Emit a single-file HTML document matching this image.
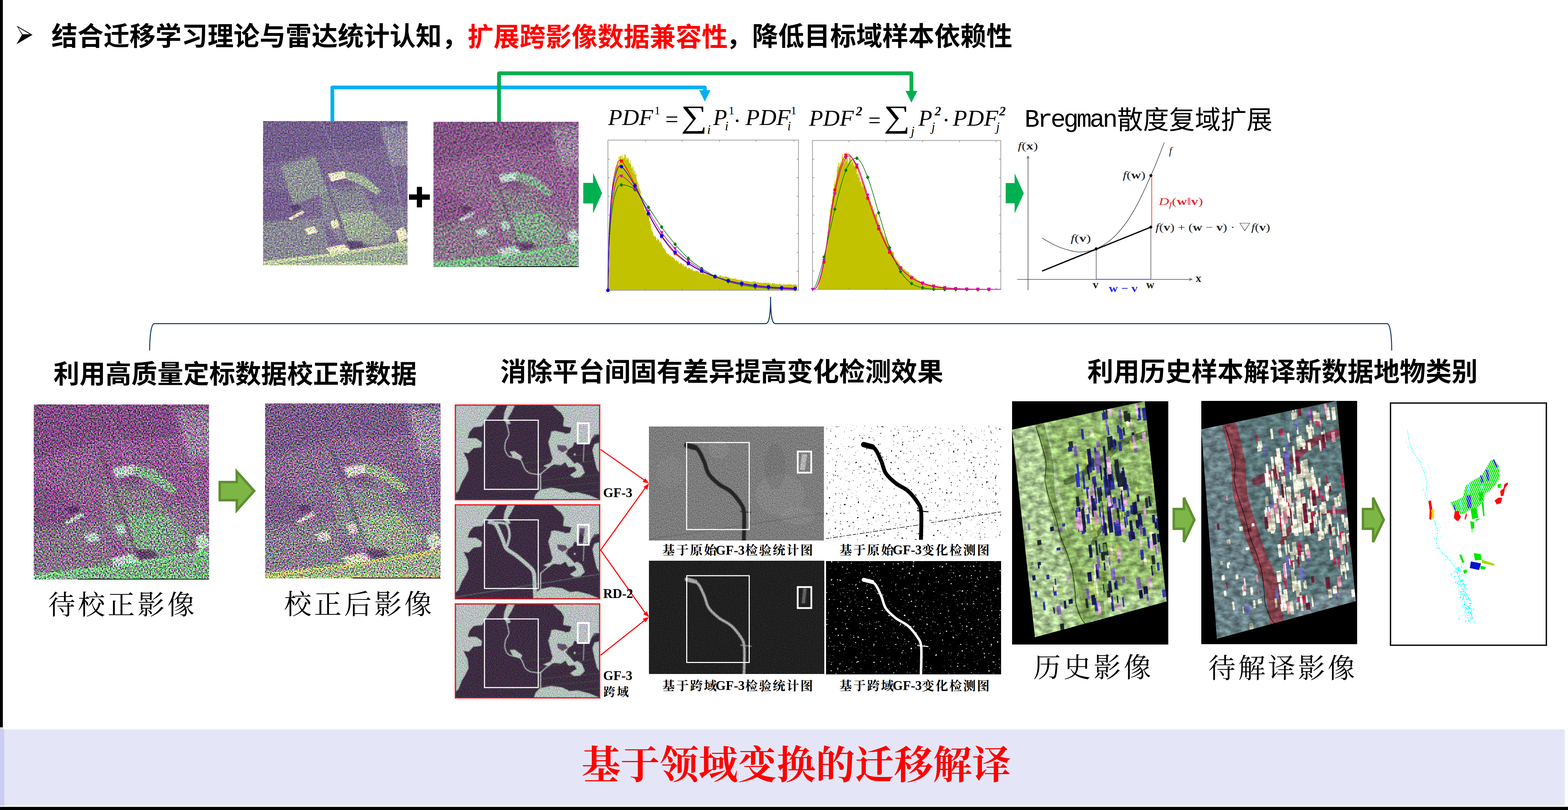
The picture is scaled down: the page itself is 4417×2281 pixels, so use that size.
<!DOCTYPE html>
<html lang="zh"><head><meta charset="utf-8"><title>基于领域变换的迁移解译</title>
<style>
html,body{margin:0;padding:0;background:#fff;}
body{width:4417px;height:2281px;position:relative;overflow:hidden;font-family:"Liberation Sans",sans-serif;color:#000;}
.a{position:absolute;}
.lab{font-family:"Liberation Serif",serif;font-weight:bold;font-size:37px;line-height:36px;white-space:nowrap;}
svg{position:absolute;overflow:visible;}
svg text{font-family:"Liberation Serif",serif;}
svg text.cs{font-family:"Liberation Sans","Noto Sans CJK SC",sans-serif;}
svg text.cf{font-family:"Liberation Serif","Noto Serif CJK SC",serif;}
</style></head><body>

<div class="a" style="left:0;top:0;width:8px;height:2048px;background:#000"></div>
<div class="a" style="left:0;top:2048px;width:8px;height:6px;background:#d9d9d9"></div>
<div class="a" style="left:8px;top:2048px;width:4px;height:6px;background:#f0f0f0"></div>
<div class="a" style="left:0;top:2054px;width:4408px;height:215px;background:#e4e6f8"></div>
<div class="a" style="left:0;top:2054px;width:12px;height:215px;background:#cbcdf2"></div>
<div class="a" style="left:0;top:2272px;width:4417px;height:9px;background:#000"></div>
<svg style="left:0;top:0" width="4417" height="2281" viewBox="0 0 4417 2281">
<text class="cs" x="144.9" y="128.4" font-size="73.3" font-weight="bold" fill="#000" textLength="1172.8" lengthAdjust="spacing">结合迁移学习理论与雷达统计认知，</text>
<text class="cs" x="1317.0" y="129.5" font-size="73.3" font-weight="bold" fill="#ff0000" textLength="733" lengthAdjust="spacing">扩展跨影像数据兼容性</text>
<text class="cs" x="2045.4" y="128.2" font-size="73.3" font-weight="bold" fill="#000" textLength="806.3" lengthAdjust="spacing">，降低目标域样本依赖性</text>
<text class="cs" x="150.8" y="1079.4" font-size="73.1" font-weight="bold" fill="#000" textLength="1023.4" lengthAdjust="spacing">利用高质量定标数据校正新数据</text>
<text class="cs" x="1409.3" y="1073.4" font-size="73.4" font-weight="bold" fill="#000" textLength="1247.8" lengthAdjust="spacing">消除平台间固有差异提高变化检测效果</text>
<text class="cs" x="3063.1" y="1072.6" font-size="73.3" font-weight="bold" fill="#000" textLength="1099.5" lengthAdjust="spacing">利用历史样本解译新数据地物类别</text>
<text class="cf" x="1638.3" y="2193.3" font-size="110" font-weight="bold" fill="#ff0000" textLength="1210" lengthAdjust="spacing">基于领域变换的迁移解译</text>
<text class="cf" x="135.4" y="1729.5" font-size="76.7" fill="#000" textLength="412.5" lengthAdjust="spacing">待校正影像</text>
<text class="cf" x="800.0" y="1728.8" font-size="77.5" fill="#000" textLength="416.5" lengthAdjust="spacing">校正后影像</text>
<text class="cf" x="2911.1" y="1907.2" font-size="77.1" fill="#000" textLength="331.6" lengthAdjust="spacing">历史影像</text>
<text class="cf" x="3403.7" y="1908.8" font-size="76.9" fill="#000" textLength="413.3" lengthAdjust="spacing">待解译影像</text>
<text class="cs" x="3147.1" y="363.3" font-size="72.9" fill="#000" textLength="437.4" lengthAdjust="spacing">散度复域扩展</text>
<text class="cf" x="1865.6" y="1562.3" font-size="35.5" font-weight="bold" fill="#000" textLength="152.8" lengthAdjust="spacing">基于原始</text>
<text class="cf" x="2099.0" y="1562.3" font-size="35.5" font-weight="bold" fill="#000" textLength="191" lengthAdjust="spacing">检验统计图</text>
<text class="cf" x="2364.4" y="1561.8" font-size="35.5" font-weight="bold" fill="#000" textLength="152.8" lengthAdjust="spacing">基于原始</text>
<text class="cf" x="2596.4" y="1561.8" font-size="35.5" font-weight="bold" fill="#000" textLength="191" lengthAdjust="spacing">变化检测图</text>
<text class="cf" x="1865.6" y="1943.9" font-size="35.5" font-weight="bold" fill="#000" textLength="152.8" lengthAdjust="spacing">基于跨域</text>
<text class="cf" x="2099.0" y="1943.7" font-size="35.5" font-weight="bold" fill="#000" textLength="191" lengthAdjust="spacing">检验统计图</text>
<text class="cf" x="2364.4" y="1943.9" font-size="35.5" font-weight="bold" fill="#000" textLength="152.8" lengthAdjust="spacing">基于跨域</text>
<text class="cf" x="2596.4" y="1943.7" font-size="35.5" font-weight="bold" fill="#000" textLength="191" lengthAdjust="spacing">变化检测图</text>
<text class="cf" x="1700.0" y="1959.5" font-size="33.1" font-weight="bold" fill="#000" textLength="71.2" lengthAdjust="spacing">跨域</text>
</svg>
<svg style="left:46px;top:72px" width="46" height="53" viewBox="0 0 46 53"><path d="M1,0.5 L45.5,26 L0.5,52.5 L16,26 Z" fill="#000"/><path d="M5.2,5.5 L38,24.6 L17.6,24.6 Z" fill="#fff"/></svg>

<!-- connectors, arrows, brace -->
<svg style="left:0;top:0" width="4417" height="2281" viewBox="0 0 4417 2281">
 <g fill="none" stroke-linejoin="round" stroke-linecap="round">
  <path d="M936.2,344 V246.3 H1985.4 V262" stroke="#00b0f0" stroke-width="10.5"/>
  <path d="M1405.7,349 V206.5 H2567.5 V262" stroke="#00b050" stroke-width="10.8"/>
 </g>
 <path d="M1969.5,254 H2001.5 L1985.5,286 Z" fill="#00b0f0"/>
 <path d="M2551,256 H2584 L2567.5,289 Z" fill="#00b050"/>
 <!-- green block arrows -->
 <path d="M1643,515 H1670.6 V487 L1696,544 L1670.6,601 V573 H1643 Z" fill="#00b050"/>
 <path d="M2833,515.4 H2858.2 V488 L2884,544.5 L2858.2,601 V572.6 H2833 Z" fill="#00b050"/>
 <!-- plus -->
 <path d="M1152,547.6 H1174.2 V526.3 H1188.8 V547.6 H1210.8 V562.4 H1188.8 V584 H1174.2 V562.4 H1152 Z" fill="#000"/>
 <!-- brace -->
 <path d="M421.6,986 C421.6,945 426,911.3 435,911.3 L2157,911.3 C2166,911.3 2170.7,890 2170.7,836 C2170.7,890 2175,911.3 2184,911.3 L3907,911.3 C3916,911.3 3920.4,945 3920.4,986" fill="none" stroke="#0b3768" stroke-width="2.7" stroke-linecap="round"/>
 <!-- olive arrows -->
 <g fill="#7db646" stroke="#5f8f30" stroke-width="7" stroke-linejoin="miter">
  <path d="M619,1357.5 H667 V1328 L716,1382.5 L667,1437 V1408.5 H619 Z"/>
  <path d="M3306.5,1433.5 H3335 V1401.5 L3364.5,1464 L3335,1526.5 V1489 H3306.5 Z"/>
  <path d="M3839.5,1433.5 H3868 V1401.5 L3898,1464 L3868,1526.5 V1489 H3839.5 Z"/>
 </g>
</svg>
<svg style="left:0;top:0" width="4417" height="450" viewBox="0 0 4417 450" fill="#000"><text x="1713" y="352" font-size="64" font-style="italic" font-weight="normal" textLength="127" lengthAdjust="spacingAndGlyphs">PDF</text><text x="1843.5" y="322" font-size="32.5" font-style="normal" font-weight="normal">1</text><text x="1874" y="356.5" font-size="64" font-style="normal" font-weight="normal" textLength="37" lengthAdjust="spacingAndGlyphs">=</text><text x="1918.3" y="358" font-size="87.8" font-style="normal" font-weight="normal" textLength="73.7" lengthAdjust="spacingAndGlyphs">∑</text><text x="1992" y="377" font-size="36" font-style="italic" font-weight="normal">i</text><text x="2009" y="352" font-size="64" font-style="italic" font-weight="normal">P</text><text x="2052.5" y="322" font-size="32.5" font-style="normal" font-weight="normal">1</text><text x="2042" y="367.4" font-size="36" font-style="italic" font-weight="normal">i</text><text x="2066" y="361" font-size="64" font-style="normal" font-weight="normal">·</text><text x="2100" y="352" font-size="64" font-style="italic" font-weight="normal" textLength="127" lengthAdjust="spacingAndGlyphs">PDF</text><text x="2227.5" y="322" font-size="32.5" font-style="normal" font-weight="normal">1</text><text x="2218" y="367.4" font-size="36" font-style="italic" font-weight="normal">i</text><text x="2279" y="354" font-size="64" font-style="italic" font-weight="normal" textLength="126" lengthAdjust="spacingAndGlyphs">PDF</text><text x="2411" y="325.4" font-size="36" font-style="italic" font-weight="bold">2</text><text x="2446" y="360" font-size="64" font-style="normal" font-weight="normal" textLength="35" lengthAdjust="spacingAndGlyphs">=</text><text x="2489.5" y="358.4" font-size="87.8" font-style="normal" font-weight="normal" textLength="74" lengthAdjust="spacingAndGlyphs">∑</text><text x="2566" y="380.5" font-size="36" font-style="italic" font-weight="normal">j</text><text x="2587" y="354" font-size="64" font-style="italic" font-weight="normal">P</text><text x="2633" y="325.4" font-size="36" font-style="italic" font-weight="bold">2</text><text x="2624" y="369" font-size="36" font-style="italic" font-weight="normal">j</text><text x="2654.5" y="359" font-size="64" font-style="normal" font-weight="normal">·</text><text x="2684" y="354" font-size="64" font-style="italic" font-weight="normal" textLength="128" lengthAdjust="spacingAndGlyphs">PDF</text><text x="2815" y="325.4" font-size="36" font-style="italic" font-weight="bold">2</text><text x="2806" y="369" font-size="36" font-style="italic" font-weight="normal">j</text></svg>
<svg style="left:0;top:0" width="4417" height="900" viewBox="0 0 4417 900"><path d="M1712.8,817.5 L1712.8,816.5 H1714.2 L1714.2,752.5 H1715.6 L1715.6,704.4 H1717.0 L1717.0,655.5 H1718.4 L1718.4,631.8 H1719.8 L1719.8,611.0 H1721.2 L1721.2,587.8 H1722.6 L1722.6,576.4 H1724.0 L1724.0,549.8 H1725.4 L1725.4,542.7 H1726.8 L1726.8,524.4 H1728.2 L1728.2,513.3 H1729.6 L1729.6,508.5 H1731.0 L1731.0,505.6 H1732.4 L1732.4,479.4 H1733.8 L1733.8,470.1 H1735.2 L1735.2,469.4 H1736.6 L1736.6,473.6 H1738.0 L1738.0,461.9 H1739.4 L1739.4,454.6 H1740.8 L1740.8,464.9 H1742.2 L1742.2,440.4 H1743.6 L1743.6,458.4 H1745.0 L1745.0,443.8 H1746.4 L1746.4,439.2 H1747.8 L1747.8,437.3 H1749.2 L1749.2,440.7 H1750.6 L1750.6,451.6 H1752.0 L1752.0,435.2 H1753.4 L1753.4,445.0 H1754.8 L1754.8,446.8 H1756.2 L1756.2,440.9 H1757.6 L1757.6,445.5 H1759.0 L1759.0,434.3 H1760.4 L1760.4,434.7 H1761.8 L1761.8,438.6 H1763.2 L1763.2,450.3 H1764.6 L1764.6,444.7 H1766.0 L1766.0,442.4 H1767.4 L1767.4,449.3 H1768.8 L1768.8,446.6 H1770.2 L1770.2,444.5 H1771.6 L1771.6,458.8 H1773.0 L1773.0,459.2 H1774.4 L1774.4,451.3 H1775.8 L1775.8,461.7 H1777.2 L1777.2,463.2 H1778.6 L1778.6,473.8 H1780.0 L1780.0,473.2 H1781.4 L1781.4,466.7 H1782.8 L1782.8,485.6 H1784.2 L1784.2,469.9 H1785.6 L1785.6,480.0 H1787.0 L1787.0,490.8 H1788.4 L1788.4,481.2 H1789.8 L1789.8,491.8 H1791.2 L1791.2,486.7 H1792.6 L1792.6,504.6 H1794.0 L1794.0,511.3 H1795.4 L1795.4,512.1 H1796.8 L1796.8,522.9 H1798.2 L1798.2,516.5 H1799.6 L1799.6,528.7 H1801.0 L1801.0,531.5 H1802.4 L1802.4,535.9 H1803.8 L1803.8,538.4 H1805.2 L1805.2,550.9 H1806.6 L1806.6,558.3 H1808.0 L1808.0,555.5 H1809.4 L1809.4,564.4 H1810.8 L1810.8,559.7 H1812.2 L1812.2,576.2 H1813.6 L1813.6,580.9 H1815.0 L1815.0,591.3 H1816.4 L1816.4,592.0 H1817.8 L1817.8,587.0 H1819.2 L1819.2,592.1 H1820.6 L1820.6,600.0 H1822.0 L1822.0,593.7 H1823.4 L1823.4,603.9 H1824.8 L1824.8,603.1 H1826.2 L1826.2,605.9 H1827.6 L1827.6,608.7 H1829.0 L1829.0,623.8 H1830.4 L1830.4,621.2 H1831.8 L1831.8,629.2 H1833.2 L1833.2,637.6 H1834.6 L1834.6,650.1 H1836.0 L1836.0,644.4 H1837.4 L1837.4,651.6 H1838.8 L1838.8,655.4 H1840.2 L1840.2,662.0 H1841.6 L1841.6,663.8 H1843.0 L1843.0,666.8 H1844.4 L1844.4,662.5 H1845.8 L1845.8,666.6 H1847.2 L1847.2,667.7 H1848.6 L1848.6,675.3 H1850.0 L1850.0,677.8 H1851.4 L1851.4,670.5 H1852.8 L1852.8,672.5 H1854.2 L1854.2,674.8 H1855.6 L1855.6,676.5 H1857.0 L1857.0,681.0 H1858.4 L1858.4,683.8 H1859.8 L1859.8,682.0 H1861.2 L1861.2,681.0 H1862.6 L1862.6,687.0 H1864.0 L1864.0,688.6 H1865.4 L1865.4,692.7 H1866.8 L1866.8,698.7 H1868.2 L1868.2,698.1 H1869.6 L1869.6,698.5 H1871.0 L1871.0,701.6 H1872.4 L1872.4,704.3 H1873.8 L1873.8,700.5 H1875.2 L1875.2,710.6 H1876.6 L1876.6,711.5 H1878.0 L1878.0,714.5 H1879.4 L1879.4,715.8 H1880.8 L1880.8,714.3 H1882.2 L1882.2,716.5 H1883.6 L1883.6,716.1 H1885.0 L1885.0,721.8 H1886.4 L1886.4,717.9 H1887.8 L1887.8,719.1 H1889.2 L1889.2,721.3 H1890.6 L1890.6,722.0 H1892.0 L1892.0,724.6 H1893.4 L1893.4,723.3 H1894.8 L1894.8,723.9 H1896.2 L1896.2,726.2 H1897.6 L1897.6,726.9 H1899.0 L1899.0,729.9 H1900.4 L1900.4,728.1 H1901.8 L1901.8,735.7 H1903.2 L1903.2,734.6 H1904.6 L1904.6,731.8 H1906.0 L1906.0,733.5 H1907.4 L1907.4,735.2 H1908.8 L1908.8,736.2 H1910.2 L1910.2,735.2 H1911.6 L1911.6,741.6 H1913.0 L1913.0,743.6 H1914.4 L1914.4,740.5 H1915.8 L1915.8,741.5 H1917.2 L1917.2,739.5 H1918.6 L1918.6,740.5 H1920.0 L1920.0,743.2 H1921.4 L1921.4,743.5 H1922.8 L1922.8,748.4 H1924.2 L1924.2,744.6 H1925.6 L1925.6,744.5 H1927.0 L1927.0,751.9 H1928.4 L1928.4,749.8 H1929.8 L1929.8,748.1 H1931.2 L1931.2,751.7 H1932.6 L1932.6,749.0 H1934.0 L1934.0,752.9 H1935.4 L1935.4,756.5 H1936.8 L1936.8,756.3 H1938.2 L1938.2,755.8 H1939.6 L1939.6,753.4 H1941.0 L1941.0,754.7 H1942.4 L1942.4,753.9 H1943.8 L1943.8,758.5 H1945.2 L1945.2,757.5 H1946.6 L1946.6,759.6 H1948.0 L1948.0,757.3 H1949.4 L1949.4,757.2 H1950.8 L1950.8,761.5 H1952.2 L1952.2,763.2 H1953.6 L1953.6,762.9 H1955.0 L1955.0,763.1 H1956.4 L1956.4,763.8 H1957.8 L1957.8,763.8 H1959.2 L1959.2,761.2 H1960.6 L1960.6,763.6 H1962.0 L1962.0,763.1 H1963.4 L1963.4,761.7 H1964.8 L1964.8,762.3 H1966.2 L1966.2,764.4 H1967.6 L1967.6,764.7 H1969.0 L1969.0,767.6 H1970.4 L1970.4,769.6 H1971.8 L1971.8,766.8 H1973.2 L1973.2,770.1 H1974.6 L1974.6,770.7 H1976.0 L1976.0,770.9 H1977.4 L1977.4,767.7 H1978.8 L1978.8,767.2 H1980.2 L1980.2,767.6 H1981.6 L1981.6,767.7 H1983.0 L1983.0,768.1 H1984.4 L1984.4,770.9 H1985.8 L1985.8,772.9 H1987.2 L1987.2,772.8 H1988.6 L1988.6,771.1 H1990.0 L1990.0,772.4 H1991.4 L1991.4,773.6 H1992.8 L1992.8,769.9 H1994.2 L1994.2,773.5 H1995.6 L1995.6,775.2 H1997.0 L1997.0,774.8 H1998.4 L1998.4,775.0 H1999.8 L1999.8,773.8 H2001.2 L2001.2,772.5 H2002.6 L2002.6,776.0 H2004.0 L2004.0,773.6 H2005.4 L2005.4,776.4 H2006.8 L2006.8,777.4 H2008.2 L2008.2,774.4 H2009.6 L2009.6,774.6 H2011.0 L2011.0,777.7 H2012.4 L2012.4,776.6 H2013.8 L2013.8,773.7 H2015.2 L2015.2,773.6 H2016.6 L2016.6,773.9 H2018.0 L2018.0,778.2 H2019.4 L2019.4,777.8 H2020.8 L2020.8,774.3 H2022.2 L2022.2,778.2 H2023.6 L2023.6,779.1 H2025.0 L2025.0,777.5 H2026.4 L2026.4,776.0 H2027.8 L2027.8,777.2 H2029.2 L2029.2,775.1 H2030.6 L2030.6,774.6 H2032.0 L2032.0,779.9 H2033.4 L2033.4,778.3 H2034.8 L2034.8,777.8 H2036.2 L2036.2,780.2 H2037.6 L2037.6,777.8 H2039.0 L2039.0,780.5 H2040.4 L2040.4,780.6 H2041.8 L2041.8,777.7 H2043.2 L2043.2,778.2 H2044.6 L2044.6,778.8 H2046.0 L2046.0,778.8 H2047.4 L2047.4,781.0 H2048.8 L2048.8,779.6 H2050.2 L2050.2,780.8 H2051.6 L2051.6,779.7 H2053.0 L2053.0,784.0 H2054.4 L2054.4,781.5 H2055.8 L2055.8,782.4 H2057.2 L2057.2,783.3 H2058.6 L2058.6,785.3 H2060.0 L2060.0,783.2 H2061.4 L2061.4,786.0 H2062.8 L2062.8,784.3 H2064.2 L2064.2,784.8 H2065.6 L2065.6,785.1 H2067.0 L2067.0,782.9 H2068.4 L2068.4,785.3 H2069.8 L2069.8,784.4 H2071.2 L2071.2,783.8 H2072.6 L2072.6,787.9 H2074.0 L2074.0,785.1 H2075.4 L2075.4,786.8 H2076.8 L2076.8,788.2 H2078.2 L2078.2,787.6 H2079.6 L2079.6,786.7 H2081.0 L2081.0,787.9 H2082.4 L2082.4,788.3 H2083.8 L2083.8,789.6 H2085.2 L2085.2,786.6 H2086.6 L2086.6,789.0 H2088.0 L2088.0,787.7 H2089.4 L2089.4,788.1 H2090.8 L2090.8,790.7 H2092.2 L2092.2,789.7 H2093.6 L2093.6,790.1 H2095.0 L2095.0,791.3 H2096.4 L2096.4,792.2 H2097.8 L2097.8,790.3 H2099.2 L2099.2,791.3 H2100.6 L2100.6,791.0 H2102.0 L2102.0,791.3 H2103.4 L2103.4,792.3 H2104.8 L2104.8,791.4 H2106.2 L2106.2,792.0 H2107.6 L2107.6,791.9 H2109.0 L2109.0,794.1 H2110.4 L2110.4,793.2 H2111.8 L2111.8,794.2 H2113.2 L2113.2,794.6 H2114.6 L2114.6,791.6 H2116.0 L2116.0,793.2 H2117.4 L2117.4,795.1 H2118.8 L2118.8,794.7 H2120.2 L2120.2,791.7 H2121.6 L2121.6,791.8 H2123.0 L2123.0,793.4 H2124.4 L2124.4,791.9 H2125.8 L2125.8,792.8 H2127.2 L2127.2,792.2 H2128.6 L2128.6,795.1 H2130.0 L2130.0,795.7 H2131.4 L2131.4,796.4 H2132.8 L2132.8,793.2 H2134.2 L2134.2,795.9 H2135.6 L2135.6,795.8 H2137.0 L2137.0,793.6 H2138.4 L2138.4,797.1 H2139.8 L2139.8,797.6 H2141.2 L2141.2,794.4 H2142.6 L2142.6,797.8 H2144.0 L2144.0,795.5 H2145.4 L2145.4,796.0 H2146.8 L2146.8,798.3 H2148.2 L2148.2,797.7 H2149.6 L2149.6,794.9 H2151.0 L2151.0,796.2 H2152.4 L2152.4,796.7 H2153.8 L2153.8,796.1 H2155.2 L2155.2,795.6 H2156.6 L2156.6,796.3 H2158.0 L2158.0,798.1 H2159.4 L2159.4,795.2 H2160.8 L2160.8,797.7 H2162.2 L2162.2,797.3 H2163.6 L2163.6,795.6 H2165.0 L2165.0,797.1 H2166.4 L2166.4,798.5 H2167.8 L2167.8,798.1 H2169.2 L2169.2,796.3 H2170.6 L2170.6,800.4 H2172.0 L2172.0,799.7 H2173.4 L2173.4,800.6 H2174.8 L2174.8,797.0 H2176.2 L2176.2,797.8 H2177.6 L2177.6,796.9 H2179.0 L2179.0,800.2 H2180.4 L2180.4,798.1 H2181.8 L2181.8,797.6 H2183.2 L2183.2,799.0 H2184.6 L2184.6,801.1 H2186.0 L2186.0,800.8 H2187.4 L2187.4,798.6 H2188.8 L2188.8,798.2 H2190.2 L2190.2,801.5 H2191.6 L2191.6,800.2 H2193.0 L2193.0,800.8 H2194.4 L2194.4,798.4 H2195.8 L2195.8,798.3 H2197.2 L2197.2,801.0 H2198.6 L2198.6,800.1 H2200.0 L2200.0,798.7 H2201.4 L2201.4,802.4 H2202.8 L2202.8,801.2 H2204.2 L2204.2,802.0 H2205.6 L2205.6,799.2 H2207.0 L2207.0,802.4 H2208.4 L2208.4,799.3 H2209.8 L2209.8,802.6 H2211.2 L2211.2,801.0 H2212.6 L2212.6,800.6 H2214.0 L2214.0,801.6 H2215.4 L2215.4,803.1 H2216.8 L2216.8,800.5 H2218.2 L2218.2,800.0 H2219.6 L2219.6,801.7 H2221.0 L2221.0,800.6 H2222.4 L2222.4,800.2 H2223.8 L2223.8,800.4 H2225.2 L2225.2,800.1 H2226.6 L2226.6,800.7 H2228.0 L2228.0,801.2 H2229.4 L2229.4,801.3 H2230.8 L2230.8,803.2 H2232.2 L2232.2,801.4 H2233.6 L2233.6,802.3 H2235.0 L2235.0,801.0 H2236.4 L2236.4,801.8 H2237.8 L2237.8,800.5 H2239.2 L2239.2,801.5 H2240.6 L2240.6,800.7 H2242.0 L2242.0,803.6 H2243.4 L2243.4,802.9 H2244.8 L2244.8,801.6 H2246.2 L2245.1,817.5 Z" fill="#c3c200"/><rect x="1712.5" y="394.5" width="536.8" height="423.0" fill="none" stroke="#9a9a9a" stroke-width="2"/><path d="M1818.0,394.5 v5 M1818.0,817.5 v-5 M1921.7,394.5 v5 M1921.7,817.5 v-5 M2027.2,394.5 v5 M2027.2,817.5 v-5 M2129.9,394.5 v5 M2129.9,817.5 v-5 M2236.4,394.5 v5 M2236.4,817.5 v-5 M1712.5,448.1 h5 M2249.2,448.1 h-5 M1712.5,500.4 h5 M2249.2,500.4 h-5 M1712.5,552.9 h5 M2249.2,552.9 h-5 M1712.5,605.5 h5 M2249.2,605.5 h-5 M1712.5,657.7 h5 M2249.2,657.7 h-5 M1712.5,711.0 h5 M2249.2,711.0 h-5 M1712.5,763.9 h5 M2249.2,763.9 h-5 " stroke="#8a8a8a" stroke-width="1.6" fill="none"/><path d="M1712.5,817.5 C1713.1,796.5 1714.2,727.3 1715.9,691.3 C1717.7,655.2 1719.7,626.7 1722.9,601.3 C1726.0,576.0 1730.3,552.5 1735.0,539.1 C1739.6,525.7 1741.6,521.6 1750.5,520.8 C1759.5,519.9 1775.9,523.4 1788.6,533.9 C1801.2,544.5 1814.0,566.5 1826.6,584.1 C1839.2,601.6 1851.5,622.1 1864.0,639.4 C1876.5,656.7 1889.2,673.1 1901.7,687.8 C1914.2,702.5 1926.6,716.2 1939.0,727.6 C1951.5,739.0 1963.9,747.9 1976.4,756.3 C1988.9,764.6 2001.6,771.6 2014.1,777.7 C2026.6,783.9 2038.9,789.1 2051.4,793.3 C2064.0,797.4 2076.8,800.2 2089.5,802.6 C2102.1,805.1 2114.6,806.7 2127.2,808.2 C2139.7,809.7 2152.4,810.7 2164.9,811.6 C2177.3,812.5 2189.4,813.1 2201.9,813.7 C2214.4,814.3 2233.6,814.9 2239.9,815.1" fill="none" stroke="#007a00" stroke-width="1.7"/><path d="M1712.5,817.5 C1713.1,794.2 1714.2,716.9 1715.9,677.4 C1717.7,637.9 1719.7,607.7 1722.9,580.6 C1726.0,553.5 1730.3,529.0 1735.0,514.9 C1739.6,500.8 1741.6,493.3 1750.5,495.9 C1759.5,498.5 1775.9,513.9 1788.6,530.4 C1801.2,547.0 1814.0,574.4 1826.6,595.1 C1839.2,615.9 1851.5,637.5 1864.0,655.0 C1876.5,672.4 1889.2,686.7 1901.7,699.9 C1914.2,713.2 1926.6,724.4 1939.0,734.5 C1951.5,744.6 1963.9,753.1 1976.4,760.4 C1988.9,767.8 2001.6,773.6 2014.1,778.8 C2026.6,784.0 2038.9,788.0 2051.4,791.6 C2064.0,795.1 2076.8,797.8 2089.5,800.2 C2102.1,802.6 2114.6,804.5 2127.2,806.1 C2139.7,807.7 2152.4,808.9 2164.9,809.9 C2177.3,810.9 2189.4,811.7 2201.9,812.3 C2214.4,813.0 2233.6,813.5 2239.9,813.7" fill="none" stroke="#cc00cc" stroke-width="1.7"/><path d="M1712.5,817.5 C1713.1,790.7 1714.2,701.9 1715.9,656.7 C1717.7,611.4 1719.7,576.3 1722.9,546.0 C1726.0,515.7 1730.3,490.6 1735.0,475.1 C1739.6,459.7 1741.6,445.8 1750.5,453.3 C1759.5,460.8 1775.9,495.1 1788.6,520.1 C1801.2,545.0 1814.0,578.6 1826.6,603.1 C1839.2,627.6 1851.5,648.6 1864.0,667.1 C1876.5,685.5 1889.2,701.1 1901.7,713.7 C1914.2,726.4 1926.6,734.8 1939.0,743.1 C1951.5,751.5 1963.9,757.8 1976.4,763.9 C1988.9,769.9 2001.6,775.0 2014.1,779.5 C2026.6,783.9 2038.9,787.4 2051.4,790.5 C2064.0,793.7 2076.8,796.2 2089.5,798.5 C2102.1,800.7 2114.6,802.4 2127.2,804.0 C2139.7,805.6 2152.4,807.1 2164.9,808.2 C2177.3,809.3 2189.4,809.9 2201.9,810.6 C2214.4,811.3 2233.6,812.0 2239.9,812.3" fill="none" stroke="#ff0000" stroke-width="1.7"/><path d="M1712.5,817.5 C1713.1,791.9 1714.2,707.1 1715.9,663.6 C1717.7,620.1 1719.7,585.5 1722.9,556.4 C1726.0,527.3 1730.3,503.5 1735.0,488.9 C1739.6,474.4 1741.6,463.5 1750.5,469.2 C1759.5,475.0 1775.9,501.5 1788.6,523.5 C1801.2,545.5 1814.0,577.9 1826.6,601.3 C1839.2,624.8 1851.5,646.1 1864.0,664.3 C1876.5,682.4 1889.2,697.6 1901.7,710.3 C1914.2,723.0 1926.6,731.9 1939.0,740.7 C1951.5,749.5 1963.9,756.8 1976.4,763.2 C1988.9,769.6 2001.6,774.6 2014.1,779.1 C2026.6,783.6 2038.9,787.0 2051.4,790.2 C2064.0,793.4 2076.8,795.9 2089.5,798.1 C2102.1,800.4 2114.6,802.1 2127.2,803.7 C2139.7,805.3 2152.4,806.7 2164.9,807.8 C2177.3,808.9 2189.4,809.5 2201.9,810.2 C2214.4,810.9 2233.6,811.7 2239.9,812.0" fill="none" stroke="#0000ff" stroke-width="1.7"/><path d="M1750.5,515.0 L1755.4,520.8 L1750.5,526.6 L1745.6,520.8 Z" fill="#007a00"/><path d="M1788.6,528.1 L1793.5,533.9 L1788.6,539.7 L1783.7,533.9 Z" fill="#007a00"/><path d="M1826.6,578.3 L1831.5,584.1 L1826.6,589.9 L1821.7,584.1 Z" fill="#007a00"/><path d="M1864.0,633.6 L1868.9,639.4 L1864.0,645.2 L1859.1,639.4 Z" fill="#007a00"/><path d="M1901.7,682.0 L1906.6,687.8 L1901.7,693.6 L1896.8,687.8 Z" fill="#007a00"/><path d="M1939.0,721.8 L1943.9,727.6 L1939.0,733.4 L1934.1,727.6 Z" fill="#007a00"/><path d="M1976.4,750.5 L1981.3,756.3 L1976.4,762.1 L1971.5,756.3 Z" fill="#007a00"/><path d="M2014.1,771.9 L2019.0,777.7 L2014.1,783.5 L2009.2,777.7 Z" fill="#007a00"/><path d="M2051.4,787.5 L2056.3,793.3 L2051.4,799.1 L2046.5,793.3 Z" fill="#007a00"/><path d="M2089.5,796.8 L2094.4,802.6 L2089.5,808.4 L2084.6,802.6 Z" fill="#007a00"/><path d="M2127.2,802.4 L2132.1,808.2 L2127.2,814.0 L2122.3,808.2 Z" fill="#007a00"/><path d="M2164.9,805.8 L2169.8,811.6 L2164.9,817.4 L2160.0,811.6 Z" fill="#007a00"/><path d="M2201.9,807.9 L2206.8,813.7 L2201.9,819.5 L2197.0,813.7 Z" fill="#007a00"/><path d="M2239.9,809.3 L2244.8,815.1 L2239.9,820.9 L2235.0,815.1 Z" fill="#007a00"/><path d="M1745.4,491.8 H1755.6 L1750.5,501.3 Z" fill="#cc00cc"/><path d="M1783.5,526.3 H1793.7 L1788.6,535.8 Z" fill="#cc00cc"/><path d="M1821.5,591.0 H1831.7 L1826.6,600.5 Z" fill="#cc00cc"/><path d="M1858.9,650.9 H1869.1 L1864.0,660.4 Z" fill="#cc00cc"/><path d="M1896.6,695.8 H1906.8 L1901.7,705.3 Z" fill="#cc00cc"/><path d="M1933.9,730.4 H1944.1 L1939.0,739.9 Z" fill="#cc00cc"/><path d="M1971.3,756.3 H1981.5 L1976.4,765.8 Z" fill="#cc00cc"/><path d="M2009.0,774.7 H2019.2 L2014.1,784.2 Z" fill="#cc00cc"/><path d="M2046.3,787.5 H2056.5 L2051.4,797.0 Z" fill="#cc00cc"/><path d="M2084.4,796.1 H2094.6 L2089.5,805.6 Z" fill="#cc00cc"/><path d="M2122.1,802.0 H2132.3 L2127.2,811.5 Z" fill="#cc00cc"/><path d="M2159.8,805.8 H2170.0 L2164.9,815.3 Z" fill="#cc00cc"/><path d="M2196.8,808.2 H2207.0 L2201.9,817.7 Z" fill="#cc00cc"/><path d="M2234.8,809.6 H2245.0 L2239.9,819.1 Z" fill="#cc00cc"/><rect x="1746.5" y="449.3" width="8.0" height="8.0" fill="#ff0000"/><rect x="1784.6" y="516.1" width="8.0" height="8.0" fill="#ff0000"/><rect x="1822.6" y="599.1" width="8.0" height="8.0" fill="#ff0000"/><rect x="1860.0" y="663.1" width="8.0" height="8.0" fill="#ff0000"/><rect x="1897.7" y="709.7" width="8.0" height="8.0" fill="#ff0000"/><rect x="1935.0" y="739.1" width="8.0" height="8.0" fill="#ff0000"/><rect x="1972.4" y="759.9" width="8.0" height="8.0" fill="#ff0000"/><rect x="2010.1" y="775.5" width="8.0" height="8.0" fill="#ff0000"/><rect x="2047.4" y="786.5" width="8.0" height="8.0" fill="#ff0000"/><rect x="2085.5" y="794.5" width="8.0" height="8.0" fill="#ff0000"/><rect x="2123.2" y="800.0" width="8.0" height="8.0" fill="#ff0000"/><rect x="2160.9" y="804.2" width="8.0" height="8.0" fill="#ff0000"/><rect x="2197.9" y="806.6" width="8.0" height="8.0" fill="#ff0000"/><rect x="2235.9" y="808.3" width="8.0" height="8.0" fill="#ff0000"/><circle cx="1712.5" cy="817.5" r="5.0" fill="#0000ff"/><circle cx="1750.5" cy="469.2" r="5.0" fill="#0000ff"/><circle cx="1788.6" cy="523.5" r="5.0" fill="#0000ff"/><circle cx="1826.6" cy="601.3" r="5.0" fill="#0000ff"/><circle cx="1864.0" cy="664.3" r="5.0" fill="#0000ff"/><circle cx="1901.7" cy="710.3" r="5.0" fill="#0000ff"/><circle cx="1939.0" cy="740.7" r="5.0" fill="#0000ff"/><circle cx="1976.4" cy="763.2" r="5.0" fill="#0000ff"/><circle cx="2014.1" cy="779.1" r="5.0" fill="#0000ff"/><circle cx="2051.4" cy="790.2" r="5.0" fill="#0000ff"/><circle cx="2089.5" cy="798.1" r="5.0" fill="#0000ff"/><circle cx="2127.2" cy="803.7" r="5.0" fill="#0000ff"/><circle cx="2164.9" cy="807.8" r="5.0" fill="#0000ff"/><circle cx="2201.9" cy="810.2" r="5.0" fill="#0000ff"/><circle cx="2239.9" cy="812.0" r="5.0" fill="#0000ff"/><path d="M2301.5,815.1 L2301.5,814.7 H2302.9 L2302.9,809.9 H2304.3 L2304.3,805.9 H2305.7 L2305.7,799.4 H2307.1 L2307.1,794.5 H2308.5 L2308.5,789.7 H2309.9 L2309.9,782.9 H2311.3 L2311.3,779.3 H2312.7 L2312.7,773.1 H2314.1 L2314.1,766.1 H2315.5 L2315.5,754.0 H2316.9 L2316.9,747.1 H2318.3 L2318.3,737.5 H2319.7 L2319.7,734.8 H2321.1 L2321.1,726.0 H2322.5 L2322.5,712.3 H2323.9 L2323.9,711.5 H2325.3 L2325.3,702.5 H2326.7 L2326.7,690.3 H2328.1 L2328.1,680.8 H2329.5 L2329.5,665.8 H2330.9 L2330.9,652.0 H2332.3 L2332.3,646.6 H2333.7 L2333.7,628.4 H2335.1 L2335.1,618.2 H2336.5 L2336.5,607.0 H2337.9 L2337.9,591.6 H2339.3 L2339.3,586.8 H2340.7 L2340.7,576.6 H2342.1 L2342.1,574.4 H2343.5 L2343.5,559.2 H2344.9 L2344.9,552.1 H2346.3 L2346.3,540.0 H2347.7 L2347.7,533.9 H2349.1 L2349.1,520.3 H2350.5 L2350.5,508.4 H2351.9 L2351.9,517.9 H2353.3 L2353.3,512.0 H2354.7 L2354.7,502.5 H2356.1 L2356.1,493.5 H2357.5 L2357.5,478.2 H2358.9 L2358.9,470.0 H2360.3 L2360.3,465.2 H2361.7 L2361.7,456.8 H2363.1 L2363.1,470.8 H2364.5 L2364.5,458.7 H2365.9 L2365.9,466.8 H2367.3 L2367.3,452.2 H2368.7 L2368.7,463.6 H2370.1 L2370.1,457.8 H2371.5 L2371.5,434.6 H2372.9 L2372.9,439.7 H2374.3 L2374.3,457.4 H2375.7 L2375.7,445.7 H2377.1 L2377.1,458.6 H2378.5 L2378.5,443.2 H2379.9 L2379.9,434.5 H2381.3 L2381.3,448.7 H2382.7 L2382.7,453.2 H2384.1 L2384.1,440.7 H2385.5 L2385.5,436.7 H2386.9 L2386.9,443.7 H2388.3 L2388.3,460.6 H2389.7 L2389.7,455.9 H2391.1 L2391.1,440.2 H2392.5 L2392.5,444.4 H2393.9 L2393.9,441.6 H2395.3 L2395.3,441.6 H2396.7 L2396.7,461.2 H2398.1 L2398.1,446.5 H2399.5 L2399.5,457.1 H2400.9 L2400.9,455.2 H2402.3 L2402.3,450.2 H2403.7 L2403.7,466.1 H2405.1 L2405.1,453.5 H2406.5 L2406.5,468.5 H2407.9 L2407.9,458.0 H2409.3 L2409.3,467.8 H2410.7 L2410.7,465.1 H2412.1 L2412.1,468.9 H2413.5 L2413.5,489.7 H2414.9 L2414.9,489.9 H2416.3 L2416.3,482.5 H2417.7 L2417.7,500.1 H2419.1 L2419.1,488.9 H2420.5 L2420.5,497.3 H2421.9 L2421.9,511.8 H2423.3 L2423.3,510.5 H2424.7 L2424.7,501.6 H2426.1 L2426.1,523.6 H2427.5 L2427.5,509.8 H2428.9 L2428.9,513.6 H2430.3 L2430.3,527.3 H2431.7 L2431.7,520.8 H2433.1 L2433.1,523.0 H2434.5 L2434.5,521.8 H2435.9 L2435.9,525.5 H2437.3 L2437.3,538.8 H2438.7 L2438.7,535.3 H2440.1 L2440.1,545.7 H2441.5 L2441.5,544.5 H2442.9 L2442.9,549.4 H2444.3 L2444.3,562.6 H2445.7 L2445.7,557.4 H2447.1 L2447.1,562.8 H2448.5 L2448.5,571.9 H2449.9 L2449.9,563.3 H2451.3 L2451.3,566.6 H2452.7 L2452.7,583.7 H2454.1 L2454.1,585.4 H2455.5 L2455.5,578.2 H2456.9 L2456.9,579.8 H2458.3 L2458.3,591.7 H2459.7 L2459.7,597.5 H2461.1 L2461.1,587.8 H2462.5 L2462.5,602.7 H2463.9 L2463.9,604.1 H2465.3 L2465.3,602.2 H2466.7 L2466.7,601.8 H2468.1 L2468.1,600.3 H2469.5 L2469.5,603.9 H2470.9 L2470.9,622.4 H2472.3 L2472.3,616.0 H2473.7 L2473.7,627.3 H2475.1 L2475.1,625.4 H2476.5 L2476.5,637.8 H2477.9 L2477.9,639.1 H2479.3 L2479.3,639.5 H2480.7 L2480.7,642.5 H2482.1 L2482.1,653.0 H2483.5 L2483.5,647.2 H2484.9 L2484.9,651.7 H2486.3 L2486.3,658.3 H2487.7 L2487.7,664.4 H2489.1 L2489.1,663.9 H2490.5 L2490.5,662.4 H2491.9 L2491.9,672.4 H2493.3 L2493.3,666.5 H2494.7 L2494.7,666.9 H2496.1 L2496.1,672.5 H2497.5 L2497.5,677.3 H2498.9 L2498.9,676.0 H2500.3 L2500.3,680.1 H2501.7 L2501.7,685.0 H2503.1 L2503.1,690.0 H2504.5 L2504.5,688.3 H2505.9 L2505.9,693.5 H2507.3 L2507.3,701.5 H2508.7 L2508.7,705.1 H2510.1 L2510.1,704.8 H2511.5 L2511.5,707.9 H2512.9 L2512.9,709.7 H2514.3 L2514.3,708.6 H2515.7 L2515.7,710.5 H2517.1 L2517.1,713.3 H2518.5 L2518.5,723.7 H2519.9 L2519.9,724.7 H2521.3 L2521.3,729.6 H2522.7 L2522.7,725.0 H2524.1 L2524.1,731.7 H2525.5 L2525.5,732.2 H2526.9 L2526.9,735.9 H2528.3 L2528.3,734.6 H2529.7 L2529.7,741.3 H2531.1 L2531.1,736.4 H2532.5 L2532.5,741.5 H2533.9 L2533.9,744.6 H2535.3 L2535.3,747.5 H2536.7 L2536.7,748.1 H2538.1 L2538.1,749.2 H2539.5 L2539.5,751.2 H2540.9 L2540.9,753.4 H2542.3 L2542.3,751.2 H2543.7 L2543.7,754.7 H2545.1 L2545.1,757.4 H2546.5 L2546.5,758.6 H2547.9 L2547.9,757.3 H2549.3 L2549.3,760.9 H2550.7 L2550.7,762.7 H2552.1 L2552.1,762.4 H2553.5 L2553.5,764.1 H2554.9 L2554.9,764.0 H2556.3 L2556.3,766.2 H2557.7 L2557.7,767.5 H2559.1 L2559.1,765.8 H2560.5 L2560.5,769.9 H2561.9 L2561.9,772.9 H2563.3 L2563.3,773.4 H2564.7 L2564.7,773.7 H2566.1 L2566.1,773.1 H2567.5 L2567.5,776.0 H2568.9 L2568.9,776.3 H2570.3 L2570.3,776.8 H2571.7 L2571.7,779.8 H2573.1 L2573.1,777.4 H2574.5 L2574.5,781.6 H2575.9 L2575.9,779.4 H2577.3 L2577.3,783.1 H2578.7 L2578.7,783.7 H2580.1 L2580.1,783.8 H2581.5 L2581.5,786.9 H2582.9 L2582.9,787.2 H2584.3 L2584.3,788.8 H2585.7 L2585.7,791.2 H2587.1 L2587.1,789.6 H2588.5 L2588.5,789.8 H2589.9 L2589.9,791.7 H2591.3 L2591.3,793.8 H2592.7 L2592.7,792.8 H2594.1 L2594.1,793.4 H2595.5 L2595.5,796.7 H2596.9 L2596.9,796.6 H2598.3 L2598.3,796.5 H2599.7 L2599.7,798.8 H2601.1 L2601.1,797.5 H2602.5 L2602.5,799.4 H2603.9 L2603.9,798.5 H2605.3 L2605.3,800.0 H2606.7 L2606.7,801.7 H2608.1 L2608.1,802.4 H2609.5 L2609.5,802.6 H2610.9 L2610.9,801.3 H2612.3 L2612.3,802.3 H2613.7 L2613.7,801.8 H2615.1 L2615.1,801.6 H2616.5 L2616.5,803.1 H2617.9 L2617.9,804.5 H2619.3 L2619.3,804.8 H2620.7 L2620.7,804.7 H2622.1 L2622.1,805.8 H2623.5 L2623.5,804.1 H2624.9 L2624.9,804.1 H2626.3 L2626.3,805.3 H2627.7 L2627.7,805.1 H2629.1 L2629.1,805.3 H2630.5 L2630.5,806.2 H2631.9 L2631.9,807.2 H2633.3 L2633.3,807.1 H2634.7 L2634.7,806.9 H2636.1 L2636.1,808.8 H2637.5 L2637.5,809.5 H2638.9 L2638.9,808.4 H2640.3 L2640.3,807.6 H2641.7 L2641.7,807.7 H2643.1 L2643.1,810.2 H2644.5 L2644.5,808.0 H2645.9 L2645.9,810.0 H2647.3 L2647.3,809.7 H2648.7 L2648.7,809.2 H2650.1 L2650.1,810.6 H2651.5 L2651.5,808.7 H2652.9 L2652.9,809.1 H2654.3 L2654.3,810.1 H2655.7 L2655.7,809.1 H2657.1 L2657.1,811.4 H2658.5 L2658.5,810.0 H2659.9 L2659.9,809.9 H2661.3 L2661.3,809.8 H2662.7 L2662.7,811.4 H2664.1 L2664.1,811.1 H2665.5 L2665.5,811.7 H2666.9 L2666.9,811.9 H2668.3 L2668.3,812.5 H2669.7 L2669.7,813.0 H2671.1 L2671.1,812.4 H2672.5 L2672.5,811.3 H2673.9 L2673.9,812.2 H2675.3 L2675.3,811.5 H2676.7 L2676.7,811.1 H2678.1 L2678.1,812.3 H2679.5 L2679.5,813.0 H2680.9 L2680.9,811.7 H2682.3 L2682.3,811.9 H2683.7 L2683.7,812.2 H2685.1 L2685.1,813.1 H2686.5 L2686.5,812.7 H2687.9 L2687.9,813.0 H2689.3 L2689.3,813.4 H2690.7 L2690.7,812.5 H2692.1 L2692.1,813.5 H2693.5 L2693.5,813.8 H2694.9 L2694.9,811.8 H2696.3 L2696.3,814.0 H2697.7 L2697.7,813.5 H2699.1 L2699.1,812.0 H2700.5 L2700.5,812.9 H2701.9 L2701.9,813.3 H2703.3 L2703.3,814.1 H2704.7 L2704.7,812.8 H2706.1 L2706.1,813.3 H2707.5 L2707.5,814.1 H2708.9 L2708.9,813.9 H2710.3 L2710.3,814.3 H2711.7 L2711.7,813.2 H2713.1 L2713.1,813.7 H2714.5 L2714.5,812.6 H2715.9 L2715.9,813.9 H2717.3 L2717.3,814.2 H2718.7 L2718.7,813.8 H2720.1 L2720.1,814.0 H2721.5 L2721.5,812.8 H2722.9 L2722.9,814.5 H2724.3 L2724.3,814.8 H2725.7 L2725.7,814.8 H2727.1 L2727.1,813.7 H2728.5 L2728.5,814.4 H2729.9 L2729.9,813.3 H2731.3 L2731.3,814.8 H2732.7 L2732.7,814.7 H2734.1 L2734.1,813.5 H2735.5 L2735.5,812.8 H2736.9 L2736.9,813.8 H2738.3 L2738.3,814.1 H2739.7 L2739.7,814.6 H2741.1 L2741.1,814.0 H2742.5 L2742.5,812.9 H2743.9 L2743.9,814.8 H2745.3 L2745.3,813.0 H2746.7 L2746.7,814.8 H2748.1 L2748.1,813.3 H2749.5 L2749.5,813.7 H2750.9 L2750.9,814.8 H2752.3 L2752.3,813.2 H2753.7 L2753.7,813.3 H2755.1 L2755.1,814.2 H2756.5 L2756.5,814.7 H2757.9 L2757.9,815.0 H2759.3 L2759.3,814.6 H2760.7 L2760.7,815.1 H2762.1 L2762.1,814.2 H2763.5 L2763.5,815.1 H2764.9 L2764.9,813.2 H2766.3 L2766.3,813.5 H2767.7 L2767.7,814.3 H2769.1 L2769.1,813.7 H2770.5 L2770.5,814.8 H2771.9 L2771.9,814.6 H2773.3 L2773.3,814.3 H2774.7 L2774.7,815.1 H2776.1 L2776.1,814.4 H2777.5 L2777.5,813.8 H2778.9 L2778.9,814.0 H2780.3 L2780.3,815.1 H2781.7 L2781.7,815.1 H2783.1 L2783.1,813.6 H2784.5 L2784.5,815.1 H2785.9 L2785.9,815.1 H2787.3 L2787.3,814.4 H2788.7 L2788.7,814.5 H2790.1 L2790.1,813.6 H2791.5 L2791.5,814.4 H2792.9 L2792.9,814.3 H2794.3 L2794.3,814.6 H2795.7 L2795.7,813.2 H2797.1 L2797.1,815.1 H2798.5 L2798.5,814.4 H2799.9 L2799.9,814.1 H2801.3 L2801.3,815.1 H2802.7 L2802.7,814.5 H2804.1 L2804.1,814.4 H2805.5 L2805.5,814.9 H2806.9 L2806.9,813.3 H2808.3 L2808.3,814.5 H2809.7 L2809.7,814.2 H2811.1 L2811.1,815.1 H2812.5 L2812.5,815.1 H2813.9 L2813.4,815.1 Z" fill="#c3c200"/><rect x="2288.7" y="395.6" width="530.5" height="419.5" fill="none" stroke="#9a9a9a" stroke-width="2"/><path d="M2391.4,395.6 v5 M2391.4,815.1 v-5 M2496.2,395.6 v5 M2496.2,815.1 v-5 M2598.9,395.6 v5 M2598.9,815.1 v-5 M2702.7,395.6 v5 M2702.7,815.1 v-5 M2806.4,395.6 v5 M2806.4,815.1 v-5 M2288.7,448.1 h5 M2819.2,448.1 h-5 M2288.7,500.4 h5 M2819.2,500.4 h-5 M2288.7,552.9 h5 M2819.2,552.9 h-5 M2288.7,605.5 h5 M2819.2,605.5 h-5 M2288.7,657.7 h5 M2819.2,657.7 h-5 M2288.7,710.3 h5 M2819.2,710.3 h-5 M2288.7,762.9 h5 M2819.2,762.9 h-5 " stroke="#8a8a8a" stroke-width="1.6" fill="none"/><path d="M2289.4,815.1 C2291.4,811.7 2296.2,810.2 2301.5,795.0 C2306.8,779.9 2312.9,758.4 2321.2,724.1 C2329.6,689.8 2341.4,630.0 2351.7,589.2 C2361.9,548.5 2372.4,503.5 2382.8,479.6 C2393.2,455.7 2403.6,442.4 2413.9,445.7 C2424.2,449.0 2434.1,473.7 2444.3,499.3 C2454.5,525.0 2464.9,566.6 2475.1,599.6 C2485.4,632.6 2495.6,670.0 2505.9,697.5 C2516.2,725.0 2526.4,747.8 2536.7,764.6 C2547.0,781.4 2557.4,790.8 2567.8,798.5 C2578.2,806.1 2588.6,807.9 2598.9,810.6 C2609.3,813.2 2619.7,813.6 2630.1,814.4 C2640.4,815.1 2650.8,815.0 2661.2,815.1 C2671.6,815.2 2681.9,815.1 2692.3,815.1 C2702.7,815.1 2713.1,815.1 2723.4,815.1 C2733.8,815.1 2744.2,815.1 2754.6,815.1 C2764.9,815.1 2780.5,815.1 2785.7,815.1" fill="none" stroke="#007a00" stroke-width="1.7"/><path d="M2289.4,815.1 C2291.7,813.2 2297.9,816.5 2303.2,803.7 C2308.5,790.8 2313.1,782.8 2321.2,738.0 C2329.3,693.1 2341.4,584.9 2351.7,534.6 C2361.9,484.3 2372.4,447.0 2382.8,436.4 C2393.2,425.7 2403.6,450.3 2413.9,470.6 C2424.2,490.9 2434.1,529.1 2444.3,558.1 C2454.5,587.1 2464.9,619.2 2475.1,644.6 C2485.4,669.9 2495.6,691.8 2505.9,710.3 C2516.2,728.7 2526.4,743.3 2536.7,755.3 C2547.0,767.2 2557.4,775.3 2567.8,782.2 C2578.2,789.1 2588.6,792.9 2598.9,796.8 C2609.3,800.6 2619.7,803.2 2630.1,805.4 C2640.4,807.6 2650.8,808.7 2661.2,809.9 C2671.6,811.0 2681.9,811.7 2692.3,812.3 C2702.7,813.0 2713.1,813.4 2723.4,813.7 C2733.8,814.0 2744.2,814.2 2754.6,814.4 C2764.9,814.6 2780.5,814.7 2785.7,814.7" fill="none" stroke="#ff0000" stroke-width="1.7"/><path d="M2289.4,815.1 C2291.7,812.9 2297.9,815.5 2303.2,801.9 C2308.5,788.3 2313.1,776.1 2321.2,733.5 C2329.3,690.8 2341.4,594.3 2351.7,546.0 C2361.9,497.8 2372.4,457.5 2382.8,444.0 C2393.2,430.4 2403.6,447.2 2413.9,464.7 C2424.2,482.3 2434.1,520.6 2444.3,549.5 C2454.5,578.3 2464.9,611.4 2475.1,637.7 C2485.4,663.9 2495.6,687.4 2505.9,706.8 C2516.2,726.3 2526.4,741.6 2536.7,754.2 C2547.0,766.8 2557.4,774.8 2567.8,782.2 C2578.2,789.6 2588.6,794.3 2598.9,798.5 C2609.3,802.6 2619.7,805.0 2630.1,807.1 C2640.4,809.3 2650.8,810.3 2661.2,811.3 C2671.6,812.3 2681.9,812.5 2692.3,813.0 C2702.7,813.5 2713.1,813.8 2723.4,814.0 C2733.8,814.3 2744.2,814.6 2754.6,814.7 C2764.9,814.9 2775.0,814.7 2785.7,814.7 C2796.4,814.7 2813.1,814.7 2818.6,814.7" fill="none" stroke="#cc00cc" stroke-width="1.7"/><path d="M2321.2,718.3 L2326.1,724.1 L2321.2,729.9 L2316.3,724.1 Z" fill="#007a00"/><path d="M2351.7,583.4 L2356.6,589.2 L2351.7,595.0 L2346.8,589.2 Z" fill="#007a00"/><path d="M2382.8,473.8 L2387.7,479.6 L2382.8,485.4 L2377.9,479.6 Z" fill="#007a00"/><path d="M2413.9,439.9 L2418.8,445.7 L2413.9,451.5 L2409.0,445.7 Z" fill="#007a00"/><path d="M2444.3,493.5 L2449.2,499.3 L2444.3,505.1 L2439.4,499.3 Z" fill="#007a00"/><path d="M2475.1,593.8 L2480.0,599.6 L2475.1,605.4 L2470.2,599.6 Z" fill="#007a00"/><path d="M2505.9,691.7 L2510.8,697.5 L2505.9,703.3 L2501.0,697.5 Z" fill="#007a00"/><path d="M2536.7,758.8 L2541.6,764.6 L2536.7,770.4 L2531.8,764.6 Z" fill="#007a00"/><path d="M2567.8,792.7 L2572.7,798.5 L2567.8,804.3 L2562.9,798.5 Z" fill="#007a00"/><path d="M2598.9,804.8 L2603.8,810.6 L2598.9,816.4 L2594.0,810.6 Z" fill="#007a00"/><path d="M2630.1,808.6 L2635.0,814.4 L2630.1,820.2 L2625.2,814.4 Z" fill="#007a00"/><path d="M2661.2,809.3 L2666.1,815.1 L2661.2,820.9 L2656.3,815.1 Z" fill="#007a00"/><path d="M2692.3,809.3 L2697.2,815.1 L2692.3,820.9 L2687.4,815.1 Z" fill="#007a00"/><path d="M2723.4,809.3 L2728.3,815.1 L2723.4,820.9 L2718.5,815.1 Z" fill="#007a00"/><path d="M2754.6,809.3 L2759.5,815.1 L2754.6,820.9 L2749.7,815.1 Z" fill="#007a00"/><path d="M2785.7,809.3 L2790.6,815.1 L2785.7,820.9 L2780.8,815.1 Z" fill="#007a00"/><rect x="2317.2" y="734.0" width="8.0" height="8.0" fill="#ff0000"/><rect x="2347.7" y="530.6" width="8.0" height="8.0" fill="#ff0000"/><rect x="2378.8" y="432.4" width="8.0" height="8.0" fill="#ff0000"/><rect x="2409.9" y="466.6" width="8.0" height="8.0" fill="#ff0000"/><rect x="2440.3" y="554.1" width="8.0" height="8.0" fill="#ff0000"/><rect x="2471.1" y="640.6" width="8.0" height="8.0" fill="#ff0000"/><rect x="2501.9" y="706.3" width="8.0" height="8.0" fill="#ff0000"/><rect x="2532.7" y="751.3" width="8.0" height="8.0" fill="#ff0000"/><rect x="2563.8" y="778.2" width="8.0" height="8.0" fill="#ff0000"/><rect x="2594.9" y="792.8" width="8.0" height="8.0" fill="#ff0000"/><rect x="2626.1" y="801.4" width="8.0" height="8.0" fill="#ff0000"/><rect x="2657.2" y="805.9" width="8.0" height="8.0" fill="#ff0000"/><rect x="2688.3" y="808.3" width="8.0" height="8.0" fill="#ff0000"/><rect x="2719.4" y="809.7" width="8.0" height="8.0" fill="#ff0000"/><rect x="2750.6" y="810.4" width="8.0" height="8.0" fill="#ff0000"/><rect x="2781.7" y="810.7" width="8.0" height="8.0" fill="#ff0000"/><path d="M2284.3,811.0 H2294.5 L2289.4,820.5 Z" fill="#cc00cc"/><path d="M2316.1,729.4 H2326.3 L2321.2,738.9 Z" fill="#cc00cc"/><path d="M2346.6,541.9 H2356.8 L2351.7,551.4 Z" fill="#cc00cc"/><path d="M2377.7,439.9 H2387.9 L2382.8,449.4 Z" fill="#cc00cc"/><path d="M2408.8,460.6 H2419.0 L2413.9,470.1 Z" fill="#cc00cc"/><path d="M2439.2,545.4 H2449.4 L2444.3,554.9 Z" fill="#cc00cc"/><path d="M2470.0,633.6 H2480.2 L2475.1,643.1 Z" fill="#cc00cc"/><path d="M2500.8,702.7 H2511.0 L2505.9,712.2 Z" fill="#cc00cc"/><path d="M2531.6,750.1 H2541.8 L2536.7,759.6 Z" fill="#cc00cc"/><path d="M2562.7,778.1 H2572.9 L2567.8,787.6 Z" fill="#cc00cc"/><path d="M2593.8,794.4 H2604.0 L2598.9,803.9 Z" fill="#cc00cc"/><path d="M2625.0,803.0 H2635.2 L2630.1,812.5 Z" fill="#cc00cc"/><path d="M2656.1,807.2 H2666.3 L2661.2,816.7 Z" fill="#cc00cc"/><path d="M2687.2,808.9 H2697.4 L2692.3,818.4 Z" fill="#cc00cc"/><path d="M2718.3,809.9 H2728.5 L2723.4,819.4 Z" fill="#cc00cc"/><path d="M2749.5,810.6 H2759.7 L2754.6,820.1 Z" fill="#cc00cc"/><path d="M2780.6,810.6 H2790.8 L2785.7,820.1 Z" fill="#cc00cc"/></svg>
<svg style="left:0;top:0" width="4417" height="900" viewBox="0 0 4417 900"><path d="M2895.9,817.0 L2895.9,441.6 M2865.5,786.7 L3355.8,786.7" stroke="#444" stroke-width="1.6" fill="none"/><path d="M2892.4,446.5 L2895.9,439.7 L2899.3,446.5 M3350.0,783.3 L3357.8,786.7 L3350.0,790.2" stroke="#444" stroke-width="1.4" fill="none"/><path d="M3088.0,700.7 L3088.0,786.7 M3241.9,639.6 L3241.9,786.7" stroke="#444" stroke-width="1.5" fill="none"/><path d="M2935.4,670.4 C2942.1,674.1 2962.3,686.5 2975.5,692.4 C2988.7,698.3 3002.8,702.7 3014.6,705.6 C3026.5,708.4 3034.2,710.3 3046.4,709.5 C3058.6,708.7 3073.7,706.8 3088.0,700.7 C3102.2,694.6 3118.1,684.8 3132.0,672.8 C3145.8,660.9 3158.8,645.5 3171.1,628.8 C3183.3,612.1 3193.5,595.0 3205.3,572.6 C3217.1,550.2 3232.6,515.2 3241.9,494.4 C3251.3,473.6 3255.2,463.5 3261.5,448.0 C3267.8,432.5 3276.6,409.3 3279.6,401.5" stroke="#333" stroke-width="1.5" fill="none"/><path d="M2935.4,763.3 L3241.9,639.6" stroke="#000" stroke-width="3.6" fill="none"/><path d="M3244.4,496.9 L3244.4,636.2" stroke="#e8231f" stroke-width="1.7" fill="none"/><path d="M3088.0,786.7 L3241.9,786.7" stroke="#5555ff" stroke-width="2.2" fill="none"/><circle cx="3088.0" cy="700.7" r="4.2" fill="#000"/><circle cx="3241.9" cy="494.4" r="4.2" fill="#000"/><circle cx="3241.9" cy="639.6" r="4.2" fill="#000"/><text x="2867.0" y="421.1" font-size="29" fill="#222" textLength="57" lengthAdjust="spacingAndGlyphs"><tspan font-style="italic">f</tspan>(<tspan font-weight="bold">x</tspan>)</text><text x="3293.3" y="434.8" font-size="29" fill="#222"><tspan font-style="italic">f</tspan></text><text x="3162.8" y="503.2" font-size="29" fill="#222" textLength="64" lengthAdjust="spacingAndGlyphs"><tspan font-style="italic">f</tspan>(<tspan font-weight="bold">w</tspan>)</text><text x="3016.1" y="681.1" font-size="29" fill="#222" textLength="57" lengthAdjust="spacingAndGlyphs"><tspan font-style="italic">f</tspan>(<tspan font-weight="bold">v</tspan>)</text><text x="3263.9" y="576.5" font-size="29" fill="#e8231f" textLength="125" lengthAdjust="spacingAndGlyphs"><tspan font-style="italic">D</tspan><tspan font-size="20" dy="6" font-style="italic">f</tspan><tspan dy="-6">(</tspan><tspan font-weight="bold">w</tspan>‖<tspan font-weight="bold">v</tspan>)</text><text x="3255.1" y="649.9" font-size="29" fill="#222" textLength="323" lengthAdjust="spacingAndGlyphs"><tspan font-style="italic">f</tspan>(<tspan font-weight="bold">v</tspan>) + (<tspan font-weight="bold">w</tspan> − <tspan font-weight="bold">v</tspan>) · ▽<tspan font-style="italic">f</tspan>(<tspan font-weight="bold">v</tspan>)</text><text x="3368.1" y="793.6" font-size="32" fill="#222"><tspan font-weight="bold">x</tspan></text><text x="3078.2" y="812.2" font-size="32" fill="#222"><tspan font-weight="bold">v</tspan></text><text x="3228.7" y="812.2" font-size="32" fill="#222"><tspan font-weight="bold">w</tspan></text><text x="3123.6" y="821.9" font-size="30" fill="#2222ee" textLength="81" lengthAdjust="spacingAndGlyphs"><tspan font-weight="bold">w − v</tspan></text></svg><div class="a" style="left:2886px;top:292px;width:700px;height:80px;line-height:80px;font-size:72px;white-space:nowrap;font-family:'Liberation Sans',sans-serif;"><span style="font-family:'Liberation Mono',monospace;font-size:71px;letter-spacing:-5.9px;">Bregman</span></div>
<svg style="left:741px;top:341px;overflow:hidden" width="407" height="406" viewBox="0 0 407 406"><defs><filter id="fs1" filterUnits="userSpaceOnUse" x="-20" y="-20" width="447" height="446" color-interpolation-filters="sRGB"><feGaussianBlur in="SourceGraphic" stdDeviation="1.2" result="b"/><feTurbulence type="fractalNoise" baseFrequency="0.27 0.24" numOctaves="2" seed="3" result="n"/><feColorMatrix in="n" type="matrix" values="1.105 0.51 0.085 0 -0.35  0.425 1.275 0 0 -0.35  0.595 0.255 0.85 0 -0.35  0 0 0 0 1" result="n2"/><feComposite in="b" in2="n2" operator="arithmetic" k1="1.3" k2="0.35" k3="0" k4="0" result="c"/><feGaussianBlur in="c" stdDeviation="0.65"/></filter><filter id="zb1" filterUnits="userSpaceOnUse" x="-30" y="-30" width="467" height="466"><feGaussianBlur stdDeviation="2"/></filter></defs><g filter="url(#fs1)"><g filter="url(#zb1)"><rect x="-30" y="-30" width="467" height="466" fill="#7d6a92"/><polygon points="-20.4,-20.3 427.4,-20.3 427.4,40.6 284.9,81.2 162.8,81.2 48.8,113.7 -20.4,138.0" fill="#6a5486" fill-opacity="0.5"/><polygon points="-20.4,182.7 73.3,203.0 97.7,268.0 40.7,308.6 -20.4,300.4" fill="#6a5486" fill-opacity="0.4"/><polygon points="328.4,16.2 427.4,8.1 427.4,129.9 360.6,121.8" fill="#a8adb4" fill-opacity="0.5"/><polygon points="48.4,126.7 150.6,97.4 189.3,196.1 85.5,234.7" fill="#939f97" fill-opacity="0.8"/><polygon points="157.1,189.6 273.5,179.9 312.2,247.7 299.1,312.2 215.3,338.2 169.7,280.1" fill="#939f97" fill-opacity="0.55"/><polygon points="215.3,257.4 312.2,254.2 370.4,312.2 325.6,349.2 231.2,338.2" fill="#aac49c" fill-opacity="0.6"/><polygon points="317.5,227.4 427.4,251.7 427.4,365.4 341.9,349.2" fill="#939f97" fill-opacity="0.385"/><polygon points="-20.4,284.2 169.7,272.0 187.2,377.6 -20.4,406.0" fill="#939f97" fill-opacity="0.6"/><polygon points="-20.4,397.9 182.7,375.6 427.4,339.0 427.4,426.3 -20.4,426.3" fill="#aac49c" fill-opacity="0.75"/></g><polygon points="232.8,139.7 280.0,151.0 333.3,196.1 321.9,209.1 270.2,176.6 234.4,163.6" fill="#aac49c" fill-opacity="0.8"/><polyline points="150.6,97.4 191.3,211.1 237.7,341.4" fill="none" stroke="#6a5486" stroke-width="8.931999999999999" stroke-opacity="0.55"/><polygon points="76.1,237.9 101.8,234.7 108.3,247.7 85.9,254.2" fill="#4b365e" fill-opacity="0.7"/><polygon points="234.4,336.6 280.0,338.2 283.3,354.4 247.5,359.7" fill="#4b365e" fill-opacity="0.65"/><polygon points="195.4,170.5 236.1,168.5 268.6,198.9 215.7,198.9" fill="#6a5486" fill-opacity="0.35"/><polyline points="341.9,0.0 394.8,284.2" fill="none" stroke="#a8adb4" stroke-width="4.872" stroke-opacity="0.45"/><polyline points="162.8,0.0 227.9,138.0" fill="none" stroke="#a8adb4" stroke-width="4.0600000000000005" stroke-opacity="0.3"/><polyline points="-20.4,401.9 182.7,377.6 427.4,339.4" fill="none" stroke="#d2e2a4" stroke-width="8.931999999999999" stroke-opacity="0.85"/><polygon points="-20.4,402.8 244.2,395.9 427.4,399.9 427.4,426.3 -20.4,426.3" fill="#d2e2a4" fill-opacity="0.55"/><polygon points="182.7,148.6 231.2,140.5 233.6,160.4 192.5,170.5" fill="#f6f7c2"/><polygon points="71.2,273.6 111.5,251.7 116.4,258.2 77.7,278.5" fill="#f6f7c2"/><polygon points="116.4,304.1 144.1,296.4 153.8,313.8 127.8,320.3" fill="#f6f7c2"/><polygon points="189.3,281.8 208.8,276.9 215.3,298.0 195.8,303.3" fill="#f6f7c2" fill-opacity="0.9"/><polygon points="177.9,357.7 227.9,346.3 245.8,364.2 190.9,375.1" fill="#f6f7c2"/><polygon points="373.6,309.0 394.8,298.0 411.1,325.2 385.0,342.3" fill="#f6f7c2"/></g></svg><svg style="left:1221px;top:343px;overflow:hidden" width="409" height="409" viewBox="0 0 409 409"><defs><filter id="fs2" filterUnits="userSpaceOnUse" x="-20" y="-20" width="449" height="449" color-interpolation-filters="sRGB"><feGaussianBlur in="SourceGraphic" stdDeviation="2.0" result="b"/><feTurbulence type="fractalNoise" baseFrequency="0.27" numOctaves="2" seed="5" result="n"/><feColorMatrix in="n" type="matrix" values="2.2399999999999998 0.5599999999999999 0 0 -0.8999999999999999  0.33599999999999997 2.464 0 0 -0.8999999999999999  1.54 0.27999999999999997 0.9799999999999999 0 -0.8999999999999999  0 0 0 0 1" result="n2"/><feComposite in="b" in2="n2" operator="arithmetic" k1="1.6" k2="0.2" k3="0" k4="0" result="c"/><feGaussianBlur in="c" stdDeviation="0.8"/></filter><filter id="zb2" filterUnits="userSpaceOnUse" x="-30" y="-30" width="469" height="469"><feGaussianBlur stdDeviation="6"/></filter></defs><g filter="url(#fs2)"><g filter="url(#zb2)"><rect x="-30" y="-30" width="469" height="469" fill="#8f628f"/><polygon points="-20.4,-20.4 429.4,-20.4 429.4,40.9 286.3,81.8 163.6,81.8 49.1,114.5 -20.4,139.1" fill="#734878" fill-opacity="0.5"/><polygon points="-20.4,184.1 73.6,204.5 98.2,269.9 40.9,310.8 -20.4,302.7" fill="#734878" fill-opacity="0.4"/><polygon points="330.1,16.4 429.4,8.2 429.4,130.9 362.4,122.7" fill="#aea4b4" fill-opacity="0.5"/><polygon points="48.7,127.6 151.3,98.2 190.2,197.5 85.9,236.4" fill="#86a088" fill-opacity="0.12"/><polygon points="157.9,191.0 274.8,181.2 313.7,249.5 300.6,314.5 216.4,340.7 170.6,282.2" fill="#86a088" fill-opacity="0.45"/><polygon points="216.4,259.3 313.7,256.0 372.2,314.5 327.2,351.7 232.3,340.7" fill="#84c690" fill-opacity="0.6"/><polygon points="319.0,229.0 429.4,253.6 429.4,368.1 343.6,351.7" fill="#86a088" fill-opacity="0.315"/><polygon points="-20.4,286.3 170.6,274.0 188.1,380.4 -20.4,409.0" fill="#86a088" fill-opacity="0.35"/><polygon points="-20.4,400.8 183.6,378.3 429.4,341.5 429.4,429.4 -20.4,429.4" fill="#84c690" fill-opacity="0.75"/></g><polygon points="233.9,140.7 281.4,152.1 335.0,197.5 323.5,210.6 271.6,177.9 235.6,164.8" fill="#84c690" fill-opacity="0.75"/><polyline points="151.3,98.2 192.2,212.7 238.9,344.0" fill="none" stroke="#734878" stroke-width="8.998" stroke-opacity="0.55"/><polygon points="76.5,239.7 102.2,236.4 108.8,249.5 86.3,256.0" fill="#4d2c54" fill-opacity="0.7"/><polygon points="235.6,339.1 281.4,340.7 284.7,357.1 248.7,362.4" fill="#4d2c54" fill-opacity="0.65"/><polygon points="196.3,171.8 237.2,169.7 269.9,200.4 216.8,200.4" fill="#734878" fill-opacity="0.35"/><polyline points="343.6,0.0 396.7,286.3" fill="none" stroke="#aea4b4" stroke-width="4.908" stroke-opacity="0.45"/><polyline points="163.6,0.0 229.0,139.1" fill="none" stroke="#aea4b4" stroke-width="4.09" stroke-opacity="0.3"/><polyline points="-20.4,404.9 183.6,380.4 429.4,341.9" fill="none" stroke="#74dc86" stroke-width="8.998" stroke-opacity="0.85"/><polygon points="-20.4,405.7 245.4,398.8 429.4,402.9 429.4,429.4 -20.4,429.4" fill="#74dc86" fill-opacity="0.55"/><polygon points="183.6,149.7 232.3,141.5 234.8,161.6 193.5,171.8" fill="#c4f7d2"/><polygon points="71.6,275.7 112.1,253.6 117.0,260.1 78.1,280.6" fill="#c4f7d2"/><polygon points="117.0,306.3 144.8,298.6 154.6,316.2 128.4,322.7" fill="#c4f7d2"/><polygon points="190.2,283.8 209.8,278.9 216.4,300.2 196.7,305.5" fill="#c4f7d2" fill-opacity="0.9"/><polygon points="178.7,360.3 229.0,348.9 247.0,366.9 191.8,377.9" fill="#c4f7d2"/><polygon points="375.5,311.2 396.7,300.2 413.1,327.6 386.9,344.8" fill="#c4f7d2"/></g><rect x="184" y="406.8" width="225" height="2.2" fill="#000"/></svg><svg style="left:95px;top:1139px;overflow:hidden" width="494" height="493" viewBox="0 0 494 493"><defs><filter id="fsA" filterUnits="userSpaceOnUse" x="-20" y="-20" width="534" height="533" color-interpolation-filters="sRGB"><feGaussianBlur in="SourceGraphic" stdDeviation="2.0" result="b"/><feTurbulence type="fractalNoise" baseFrequency="0.26" numOctaves="2" seed="8" result="n"/><feColorMatrix in="n" type="matrix" values="2.4000000000000004 0.6000000000000001 0 0 -1.0  0.36 2.64 0 0 -1.0  1.6500000000000001 0.30000000000000004 1.0499999999999998 0 -1.0  0 0 0 0 1" result="n2"/><feComposite in="b" in2="n2" operator="arithmetic" k1="1.6" k2="0.2" k3="0" k4="0" result="c"/><feGaussianBlur in="c" stdDeviation="0.7"/></filter><filter id="zbA" filterUnits="userSpaceOnUse" x="-30" y="-30" width="554" height="553"><feGaussianBlur stdDeviation="7"/></filter></defs><g filter="url(#fsA)"><g filter="url(#zbA)"><rect x="-30" y="-30" width="554" height="553" fill="#8c5c8e"/><polygon points="-24.7,-24.6 518.7,-24.6 518.7,49.3 345.8,98.6 197.6,98.6 59.3,138.0 -24.7,167.6" fill="#6f4274" fill-opacity="0.5"/><polygon points="-24.7,221.8 88.9,246.5 118.6,325.4 49.4,374.7 -24.7,364.8" fill="#6f4274" fill-opacity="0.4"/><polygon points="398.7,19.7 518.7,9.9 518.7,157.8 437.7,147.9" fill="#a9a3b0" fill-opacity="0.5"/><polygon points="58.8,153.8 182.8,118.3 229.7,238.1 103.7,285.0" fill="#7f9f80" fill-opacity="0.12"/><polygon points="190.7,230.2 332.0,218.4 378.9,300.7 363.1,379.1 261.3,410.7 206.0,340.2" fill="#7f9f80" fill-opacity="0.5"/><polygon points="261.3,312.6 378.9,308.6 449.5,379.1 395.2,424.0 280.6,410.7" fill="#7cc886" fill-opacity="0.6"/><polygon points="385.3,276.1 518.7,305.7 518.7,443.7 415.0,424.0" fill="#7f9f80" fill-opacity="0.35"/><polygon points="-24.7,345.1 206.0,330.3 227.2,458.5 -24.7,493.0" fill="#7f9f80" fill-opacity="0.35"/><polygon points="-24.7,483.1 221.8,456.0 518.7,411.7 518.7,517.6 -24.7,517.6" fill="#7cc886" fill-opacity="0.75"/></g><polygon points="282.6,169.6 339.9,183.4 404.6,238.1 390.8,253.9 328.0,214.5 284.5,198.7" fill="#7cc886" fill-opacity="0.8"/><polyline points="182.8,118.3 232.2,256.4 288.5,414.6" fill="none" stroke="#6f4274" stroke-width="10.846" stroke-opacity="0.55"/><polygon points="92.4,288.9 123.5,285.0 131.4,300.7 104.2,308.6" fill="#4a2a52" fill-opacity="0.7"/><polygon points="284.5,408.7 339.9,410.7 343.8,430.4 300.4,436.8" fill="#4a2a52" fill-opacity="0.65"/><polygon points="237.1,207.1 286.5,204.6 326.0,241.6 261.8,241.6" fill="#6f4274" fill-opacity="0.35"/><polyline points="415.0,0.0 479.2,345.1" fill="none" stroke="#a9a3b0" stroke-width="5.916" stroke-opacity="0.45"/><polyline points="197.6,0.0 276.6,167.6" fill="none" stroke="#a9a3b0" stroke-width="4.93" stroke-opacity="0.3"/><polyline points="-24.7,488.1 221.8,458.5 518.7,412.1" fill="none" stroke="#7fe28a" stroke-width="10.846" stroke-opacity="0.85"/><polygon points="-24.7,489.1 296.4,480.7 518.7,485.6 518.7,517.6 -24.7,517.6" fill="#7fe28a" fill-opacity="0.55"/><polygon points="221.8,180.4 280.6,170.6 283.6,194.7 233.7,207.1" fill="#c4f7cc"/><polygon points="86.5,332.3 135.4,305.7 141.3,313.5 94.4,338.2" fill="#c4f7cc"/><polygon points="141.3,369.3 174.9,359.9 186.7,381.1 155.1,389.0" fill="#c4f7cc"/><polygon points="229.7,342.1 253.4,336.2 261.3,361.9 237.6,368.3" fill="#c4f7cc" fill-opacity="0.9"/><polygon points="215.9,434.3 276.6,420.5 298.4,442.2 231.7,455.5" fill="#c4f7cc"/><polygon points="453.5,375.2 479.2,361.9 498.9,394.9 467.3,415.6" fill="#c4f7cc"/></g><rect x="124" y="490.8" width="370" height="2.2" fill="#000"/></svg><svg style="left:747px;top:1136px;overflow:hidden" width="494" height="493" viewBox="0 0 494 493"><defs><filter id="fsB" filterUnits="userSpaceOnUse" x="-20" y="-20" width="534" height="533" color-interpolation-filters="sRGB"><feGaussianBlur in="SourceGraphic" stdDeviation="2.0" result="b"/><feTurbulence type="fractalNoise" baseFrequency="0.28" numOctaves="2" seed="12" result="n"/><feColorMatrix in="n" type="matrix" values="2.4000000000000004 0.6400000000000001 0.16000000000000003 0 -1.1  0.48 2.72 0 0 -1.1  1.1199999999999999 0.32000000000000006 1.7600000000000002 0 -1.1  0 0 0 0 1" result="n2"/><feComposite in="b" in2="n2" operator="arithmetic" k1="1.6" k2="0.2" k3="0" k4="0" result="c"/><feGaussianBlur in="c" stdDeviation="0.65"/></filter><filter id="zbB" filterUnits="userSpaceOnUse" x="-30" y="-30" width="554" height="553"><feGaussianBlur stdDeviation="7"/></filter></defs><g filter="url(#fsB)"><g filter="url(#zbB)"><rect x="-30" y="-30" width="554" height="553" fill="#86698f"/><polygon points="-24.7,-24.6 518.7,-24.6 518.7,49.3 345.8,98.6 197.6,98.6 59.3,138.0 -24.7,167.6" fill="#6c4f7e" fill-opacity="0.5"/><polygon points="-24.7,221.8 88.9,246.5 118.6,325.4 49.4,374.7 -24.7,364.8" fill="#6c4f7e" fill-opacity="0.4"/><polygon points="398.7,19.7 518.7,9.9 518.7,157.8 437.7,147.9" fill="#b3adb9" fill-opacity="0.5"/><polygon points="58.8,153.8 182.8,118.3 229.7,238.1 103.7,285.0" fill="#8fa58f" fill-opacity="0.12"/><polygon points="190.7,230.2 332.0,218.4 378.9,300.7 363.1,379.1 261.3,410.7 206.0,340.2" fill="#8fa58f" fill-opacity="0.5"/><polygon points="261.3,312.6 378.9,308.6 449.5,379.1 395.2,424.0 280.6,410.7" fill="#a3c88f" fill-opacity="0.6"/><polygon points="385.3,276.1 518.7,305.7 518.7,443.7 415.0,424.0" fill="#8fa58f" fill-opacity="0.35"/><polygon points="-24.7,345.1 206.0,330.3 227.2,458.5 -24.7,493.0" fill="#8fa58f" fill-opacity="0.35"/><polygon points="-24.7,483.1 221.8,456.0 518.7,411.7 518.7,517.6 -24.7,517.6" fill="#a3c88f" fill-opacity="0.75"/></g><polygon points="282.6,169.6 339.9,183.4 404.6,238.1 390.8,253.9 328.0,214.5 284.5,198.7" fill="#a3c88f" fill-opacity="0.75"/><polyline points="182.8,118.3 232.2,256.4 288.5,414.6" fill="none" stroke="#6c4f7e" stroke-width="10.846" stroke-opacity="0.55"/><polygon points="92.4,288.9 123.5,285.0 131.4,300.7 104.2,308.6" fill="#4c3358" fill-opacity="0.7"/><polygon points="284.5,408.7 339.9,410.7 343.8,430.4 300.4,436.8" fill="#4c3358" fill-opacity="0.65"/><polygon points="237.1,207.1 286.5,204.6 326.0,241.6 261.8,241.6" fill="#6c4f7e" fill-opacity="0.35"/><polyline points="415.0,0.0 479.2,345.1" fill="none" stroke="#b3adb9" stroke-width="5.916" stroke-opacity="0.45"/><polyline points="197.6,0.0 276.6,167.6" fill="none" stroke="#b3adb9" stroke-width="4.93" stroke-opacity="0.3"/><polyline points="-24.7,488.1 221.8,458.5 518.7,412.1" fill="none" stroke="#cfe36a" stroke-width="10.846" stroke-opacity="0.85"/><polygon points="-24.7,489.1 296.4,480.7 518.7,485.6 518.7,517.6 -24.7,517.6" fill="#cfe36a" fill-opacity="0.55"/><polygon points="221.8,180.4 280.6,170.6 283.6,194.7 233.7,207.1" fill="#ffffcf"/><polygon points="86.5,332.3 135.4,305.7 141.3,313.5 94.4,338.2" fill="#ffffcf"/><polygon points="141.3,369.3 174.9,359.9 186.7,381.1 155.1,389.0" fill="#ffffcf"/><polygon points="229.7,342.1 253.4,336.2 261.3,361.9 237.6,368.3" fill="#ffffcf" fill-opacity="0.9"/><polygon points="215.9,434.3 276.6,420.5 298.4,442.2 231.7,455.5" fill="#ffffcf"/><polygon points="453.5,375.2 479.2,361.9 498.9,394.9 467.3,415.6" fill="#ffffcf"/></g><rect x="247" y="490.8" width="247" height="2.2" fill="#000"/></svg>
<div class="a" style="left:1281px;top:1139px;width:404px;height:264px;border:3px solid #e8151b;overflow:hidden"><svg style="left:0;top:0;overflow:hidden" width="404" height="264" viewBox="0 0 404 264"><defs><filter id="fr1" filterUnits="userSpaceOnUse" x="-10" y="-10" width="424" height="284" color-interpolation-filters="sRGB"><feGaussianBlur in="SourceGraphic" stdDeviation="0.9" result="b"/><feTurbulence type="fractalNoise" baseFrequency="0.42" numOctaves="2" seed="21" result="n"/><feColorMatrix in="n" type="matrix" values="1.7 0.4 0 0 -0.55  0.3 1.8 0 0 -0.55  1.0 0.2 0.9 0 -0.55  0 0 0 0 1" result="n2"/><feComposite in="b" in2="n2" operator="arithmetic" k1="0.55" k2="0.72" k3="0.14" k4="-0.07" result="c"/><feGaussianBlur in="c" stdDeviation="0.45"/></filter></defs><g filter="url(#fr1)"><rect x="-10" y="-10" width="424" height="284" fill="#3d2c42"/><path d="M181.8,163.7 L404.0,132.0" stroke="#3f5a3c" stroke-width="2.2" stroke-opacity="0.7"/><path d="M202.0,184.8 L404.0,153.1" stroke="#3f5a3c" stroke-width="2.2" stroke-opacity="0.7"/><path d="M242.4,211.2 L404.0,195.4" stroke="#3f5a3c" stroke-width="2.2" stroke-opacity="0.7"/><path d="M121.2,242.9 L404.0,216.5" stroke="#3f5a3c" stroke-width="2.2" stroke-opacity="0.7"/><path d="M250.5,253.4 L404.0,237.6" stroke="#3f5a3c" stroke-width="2.2" stroke-opacity="0.7"/><polygon points="0.0,0.0 114.3,0.0 92.9,28.2 83.6,42.2 73.9,58.9 50.1,61.2 38.4,75.5 33.5,91.9 57.4,91.9 73.9,103.8 71.5,117.7 50.1,120.1 36.0,134.4 21.8,132.0 33.5,155.5 36.0,181.6 26.7,200.4 17.0,216.7 7.7,240.5 0.0,247.6" fill="#b4c3bc"/><polygon points="272.7,0.0 404.0,0.0 404.0,81.6 390.7,81.6 382.2,94.2 378.1,106.9 362.0,109.6 342.2,106.9 334.1,102.7 329.7,115.4 317.1,123.8 308.7,136.5 325.6,153.1 334.1,163.7 342.2,159.7 355.1,168.2 363.6,189.0 350.7,201.7 334.1,203.8 321.2,195.4 340.2,182.7 334.1,172.4 317.1,174.2 308.7,159.7 296.1,168.2 277.1,166.1 258.2,174.2 245.6,170.3 266.6,161.8 272.7,149.2 266.6,128.0 260.2,102.7 266.6,85.8 268.7,73.1 279.2,71.0 308.7,77.4 302.2,56.2 304.6,35.1 296.1,20.3 287.6,14.0" fill="#b4c3bc"/><polygon points="404.0,104.8 390.7,108.0 384.6,123.8 390.7,153.4 397.1,178.7 404.0,189.0" fill="#b4c3bc"/><polygon points="220.2,264.0 224.6,250.3 237.1,237.6 268.7,231.3 300.2,235.5 321.2,246.0 342.2,243.9 376.1,252.4 404.0,264.0" fill="#b4c3bc"/><polygon points="285.6,111.1 308.7,113.3 315.1,123.8 300.2,132.3 287.6,123.8" fill="#3d2c42"/><polygon points="302.2,58.3 325.6,62.6 321.2,77.4 306.6,79.5" fill="#3d2c42"/><circle cx="334.9" cy="137.5" r="3" fill="#b4c3bc"/><path d="M361.2,108.2 L359.2,158.4" stroke="#b4c3bc" stroke-width="2.2"/><polygon points="145.0,0.0 166.4,0.0 155.9,21.1 146.2,37.0 155.1,50.2 147.9,54.1 134.1,40.9 136.6,21.1" fill="#b4c3bc"/><path d="M141.4,44.9 C142.7,50.8 149.6,71.3 149.5,80.5 C149.3,89.8 142.5,93.3 140.6,100.3 C138.7,107.4 137.0,115.9 138.2,122.8 C139.3,129.6 143.9,137.4 147.5,141.2 C151.0,145.1 153.9,144.0 159.6,146.0 C165.3,148.0 176.9,149.7 181.8,153.1 C186.7,156.5 186.8,161.9 189.1,166.3 C191.3,170.7 192.0,175.6 195.1,179.5 C198.3,183.5 202.2,187.7 208.1,190.1 C213.9,192.5 225.2,193.2 230.3,193.8 C235.3,194.4 237.0,193.8 238.4,193.8" fill="none" stroke="#b4c3bc" stroke-width="3"/><polygon points="151.5,129.4 165.6,128.0 187.5,143.9 183.8,151.8 161.6,146.5" fill="#b4c3bc"/><path d="M238.8,190.9 V237.6" stroke="#b4c3bc" stroke-width="3.4"/><polyline points="238.8,193.2 254.5,179.5 273.1,165.0" fill="none" stroke="#b4c3bc" stroke-width="3"/><circle cx="32.3" cy="31.7" r="36.4" fill="#c9b3cf" fill-opacity="0.25"/><circle cx="355.5" cy="26.4" r="40.4" fill="#c9b3cf" fill-opacity="0.25"/><circle cx="375.7" cy="66.0" r="28.3" fill="#c9b3cf" fill-opacity="0.25"/><circle cx="290.9" cy="132.0" r="24.2" fill="#c9b3cf" fill-opacity="0.25"/><circle cx="20.2" cy="105.6" r="20.2" fill="#c9b3cf" fill-opacity="0.25"/></g><rect x="80.8" y="41.3" width="151.4" height="194.7" fill="none" stroke="#fff" stroke-width="3"/><rect x="343.5" y="50.0" width="31.1" height="56.8" fill="none" stroke="#fff" stroke-width="5"/></svg></div><div class="a" style="left:1281px;top:1420px;width:404px;height:262px;border:3px solid #e8151b;overflow:hidden"><svg style="left:0;top:0;overflow:hidden" width="404" height="262" viewBox="0 0 404 262"><defs><filter id="fr2" filterUnits="userSpaceOnUse" x="-10" y="-10" width="424" height="282" color-interpolation-filters="sRGB"><feGaussianBlur in="SourceGraphic" stdDeviation="0.9" result="b"/><feTurbulence type="fractalNoise" baseFrequency="0.42" numOctaves="2" seed="22" result="n"/><feColorMatrix in="n" type="matrix" values="1.7 0.4 0 0 -0.55  0.3 1.8 0 0 -0.55  1.0 0.2 0.9 0 -0.55  0 0 0 0 1" result="n2"/><feComposite in="b" in2="n2" operator="arithmetic" k1="0.55" k2="0.72" k3="0.14" k4="-0.07" result="c"/><feGaussianBlur in="c" stdDeviation="0.45"/></filter></defs><g filter="url(#fr2)"><rect x="-10" y="-10" width="424" height="282" fill="#3d2c42"/><path d="M0,258.1 L404,193.9" stroke="#66807c" stroke-width="2.4" stroke-opacity="0.8"/><polygon points="0.0,0.0 114.3,0.0 92.9,28.0 83.6,41.9 73.9,58.4 50.1,60.8 38.4,74.9 33.5,91.2 57.4,91.2 73.9,103.0 71.5,116.9 50.1,119.2 36.0,133.4 21.8,131.0 33.5,154.3 36.0,180.3 26.7,198.9 17.0,215.1 7.7,238.7 0.0,245.8" fill="#b4c3bc"/><polygon points="272.7,0.0 404.0,0.0 404.0,81.0 390.7,81.0 382.2,93.5 378.1,106.1 362.0,108.7 342.2,106.1 334.1,101.9 329.7,114.5 317.1,122.9 308.7,135.5 325.6,152.0 334.1,162.4 342.2,158.5 355.1,166.9 363.6,187.6 350.7,200.2 334.1,202.3 321.2,193.9 340.2,181.3 334.1,171.1 317.1,172.9 308.7,158.5 296.1,166.9 277.1,164.8 258.2,172.9 245.6,169.0 266.6,160.6 272.7,148.0 266.6,127.1 260.2,101.9 266.6,85.2 268.7,72.6 279.2,70.5 308.7,76.8 302.2,55.8 304.6,34.8 296.1,20.2 287.6,13.9" fill="#b4c3bc"/><polygon points="404.0,104.0 390.7,107.2 384.6,122.9 390.7,152.2 397.1,177.4 404.0,187.6" fill="#b4c3bc"/><polygon points="220.2,262.0 224.6,248.4 237.1,235.8 268.7,229.5 300.2,233.7 321.2,244.2 342.2,242.1 376.1,250.5 404.0,262.0" fill="#b4c3bc"/><polygon points="285.6,110.3 308.7,112.4 315.1,122.9 300.2,131.3 287.6,122.9" fill="#3d2c42"/><polygon points="302.2,57.9 325.6,62.1 321.2,76.8 306.6,78.9" fill="#3d2c42"/><circle cx="334.9" cy="136.5" r="3" fill="#b4c3bc"/><path d="M361.2,107.4 L359.2,157.2" stroke="#b4c3bc" stroke-width="2.2"/><polygon points="145.0,0.0 166.4,0.0 155.9,21.0 146.2,36.7 155.1,49.8 147.9,53.7 134.1,40.6 136.6,21.0" fill="#b4c3bc"/><path d="M90.5,46.4 C94.1,47.6 105.2,45.6 111.9,53.4 C118.6,61.3 125.8,82.2 130.9,93.5 C136.0,104.9 136.3,113.8 142.6,121.6 C148.9,129.4 159.4,133.0 168.9,140.4 C178.4,147.9 191.3,158.3 199.6,166.1 C207.9,173.9 214.8,177.5 218.6,187.3 C222.3,197.2 221.4,212.9 222.2,225.3 C223.0,237.8 223.2,255.9 223.4,262.0" fill="none" stroke="#b4c3bc" stroke-width="11"/><path d="M109.1,48.5 C113.1,48.7 127.3,48.3 133.3,49.8 C139.4,51.3 142.4,52.0 145.4,57.6 C148.5,63.3 151.6,74.2 151.5,83.8 C151.4,93.4 145.8,110.0 144.6,115.3" fill="none" stroke="#b4c3bc" stroke-width="7"/><rect x="221.4" y="191.3" width="5" height="70.7" fill="#b4c3bc"/><polygon points="349.5,62.9 363.6,64.2 357.5,107.4 346.6,104.8" fill="#3d2c42"/><path d="M238.8,189.4 V235.8" stroke="#b4c3bc" stroke-width="3.4"/><polyline points="238.8,191.8 254.5,178.2 273.1,163.8" fill="none" stroke="#b4c3bc" stroke-width="3"/><circle cx="32.3" cy="31.4" r="36.4" fill="#c9b3cf" fill-opacity="0.25"/><circle cx="355.5" cy="26.2" r="40.4" fill="#c9b3cf" fill-opacity="0.25"/><circle cx="375.7" cy="65.5" r="28.3" fill="#c9b3cf" fill-opacity="0.25"/><circle cx="290.9" cy="131.0" r="24.2" fill="#c9b3cf" fill-opacity="0.25"/><circle cx="20.2" cy="104.8" r="20.2" fill="#c9b3cf" fill-opacity="0.25"/></g><rect x="80.8" y="41.0" width="151.4" height="193.2" fill="none" stroke="#fff" stroke-width="3"/><rect x="343.5" y="54.8" width="31.1" height="56.3" fill="none" stroke="#fff" stroke-width="5"/></svg></div><div class="a" style="left:1281px;top:1699px;width:404px;height:262px;border:3px solid #e8151b;overflow:hidden"><svg style="left:0;top:0;overflow:hidden" width="404" height="262" viewBox="0 0 404 262"><defs><filter id="fr3" filterUnits="userSpaceOnUse" x="-10" y="-10" width="424" height="282" color-interpolation-filters="sRGB"><feGaussianBlur in="SourceGraphic" stdDeviation="0.9" result="b"/><feTurbulence type="fractalNoise" baseFrequency="0.42" numOctaves="2" seed="23" result="n"/><feColorMatrix in="n" type="matrix" values="1.7 0.4 0 0 -0.55  0.3 1.8 0 0 -0.55  1.0 0.2 0.9 0 -0.55  0 0 0 0 1" result="n2"/><feComposite in="b" in2="n2" operator="arithmetic" k1="0.55" k2="0.72" k3="0.14" k4="-0.07" result="c"/><feGaussianBlur in="c" stdDeviation="0.45"/></filter></defs><g filter="url(#fr3)"><rect x="-10" y="-10" width="424" height="282" fill="#3d2c42"/><path d="M181.8,162.4 L404.0,131.0" stroke="#3f5a3c" stroke-width="2.2" stroke-opacity="0.7"/><path d="M202.0,183.4 L404.0,152.0" stroke="#3f5a3c" stroke-width="2.2" stroke-opacity="0.7"/><path d="M242.4,209.6 L404.0,193.9" stroke="#3f5a3c" stroke-width="2.2" stroke-opacity="0.7"/><path d="M121.2,241.0 L404.0,214.8" stroke="#3f5a3c" stroke-width="2.2" stroke-opacity="0.7"/><path d="M250.5,251.5 L404.0,235.8" stroke="#3f5a3c" stroke-width="2.2" stroke-opacity="0.7"/><polygon points="0.0,0.0 114.3,0.0 92.9,28.0 83.6,41.9 73.9,58.4 50.1,60.8 38.4,74.9 33.5,91.2 57.4,91.2 73.9,103.0 71.5,116.9 50.1,119.2 36.0,133.4 21.8,131.0 33.5,154.3 36.0,180.3 26.7,198.9 17.0,215.1 7.7,238.7 0.0,245.8" fill="#b4c3bc"/><polygon points="272.7,0.0 404.0,0.0 404.0,81.0 390.7,81.0 382.2,93.5 378.1,106.1 362.0,108.7 342.2,106.1 334.1,101.9 329.7,114.5 317.1,122.9 308.7,135.5 325.6,152.0 334.1,162.4 342.2,158.5 355.1,166.9 363.6,187.6 350.7,200.2 334.1,202.3 321.2,193.9 340.2,181.3 334.1,171.1 317.1,172.9 308.7,158.5 296.1,166.9 277.1,164.8 258.2,172.9 245.6,169.0 266.6,160.6 272.7,148.0 266.6,127.1 260.2,101.9 266.6,85.2 268.7,72.6 279.2,70.5 308.7,76.8 302.2,55.8 304.6,34.8 296.1,20.2 287.6,13.9" fill="#b4c3bc"/><polygon points="404.0,104.0 390.7,107.2 384.6,122.9 390.7,152.2 397.1,177.4 404.0,187.6" fill="#b4c3bc"/><polygon points="220.2,262.0 224.6,248.4 237.1,235.8 268.7,229.5 300.2,233.7 321.2,244.2 342.2,242.1 376.1,250.5 404.0,262.0" fill="#b4c3bc"/><polygon points="285.6,110.3 308.7,112.4 315.1,122.9 300.2,131.3 287.6,122.9" fill="#3d2c42"/><polygon points="302.2,57.9 325.6,62.1 321.2,76.8 306.6,78.9" fill="#3d2c42"/><circle cx="334.9" cy="136.5" r="3" fill="#b4c3bc"/><path d="M361.2,107.4 L359.2,157.2" stroke="#b4c3bc" stroke-width="2.2"/><polygon points="145.0,0.0 166.4,0.0 155.9,21.0 146.2,36.7 155.1,49.8 147.9,53.7 134.1,40.6 136.6,21.0" fill="#b4c3bc"/><path d="M141.4,44.5 C142.7,50.4 149.6,70.7 149.5,79.9 C149.3,89.1 142.5,92.6 140.6,99.6 C138.7,106.5 137.0,115.1 138.2,121.8 C139.3,128.6 143.9,136.3 147.5,140.2 C151.0,144.0 153.9,142.9 159.6,144.9 C165.3,146.9 176.9,148.6 181.8,152.0 C186.7,155.3 186.8,160.7 189.1,165.1 C191.3,169.4 192.0,174.2 195.1,178.2 C198.3,182.1 202.2,186.3 208.1,188.6 C213.9,191.0 225.2,191.7 230.3,192.3 C235.3,192.9 237.0,192.3 238.4,192.3" fill="none" stroke="#b4c3bc" stroke-width="3"/><polygon points="151.5,128.4 165.6,127.1 187.5,142.8 183.8,150.7 161.6,145.4" fill="#b4c3bc"/><path d="M238.8,189.4 V235.8" stroke="#b4c3bc" stroke-width="3.4"/><polyline points="238.8,191.8 254.5,178.2 273.1,163.8" fill="none" stroke="#b4c3bc" stroke-width="3"/><circle cx="32.3" cy="31.4" r="36.4" fill="#c9b3cf" fill-opacity="0.25"/><circle cx="355.5" cy="26.2" r="40.4" fill="#c9b3cf" fill-opacity="0.25"/><circle cx="375.7" cy="65.5" r="28.3" fill="#c9b3cf" fill-opacity="0.25"/><circle cx="290.9" cy="131.0" r="24.2" fill="#c9b3cf" fill-opacity="0.25"/><circle cx="20.2" cy="104.8" r="20.2" fill="#c9b3cf" fill-opacity="0.25"/></g><rect x="80.8" y="41.0" width="151.4" height="193.2" fill="none" stroke="#fff" stroke-width="3"/><rect x="343.5" y="52.4" width="31.1" height="56.3" fill="none" stroke="#fff" stroke-width="5"/></svg></div><svg style="left:1828px;top:1201px;overflow:hidden" width="493" height="321" viewBox="0 0 493 321"><defs><filter id="fg1" filterUnits="userSpaceOnUse" x="-10" y="-10" width="513" height="341" color-interpolation-filters="sRGB"><feGaussianBlur in="SourceGraphic" stdDeviation="0.8" result="b"/><feTurbulence type="fractalNoise" baseFrequency="0.5" numOctaves="2" seed="31" result="n"/><feColorMatrix in="n" type="matrix" values="1.3 0 0 0 -0.15000000000000002  1.3 0 0 0 -0.15000000000000002  1.3 0 0 0 -0.15000000000000002  0 0 0 0 1" result="n2"/><feComposite in="b" in2="n2" operator="arithmetic" k1="1.2" k2="0.4" k3="0" k4="0"/></filter></defs><g filter="url(#fg1)"><rect x="-10" y="-10" width="513" height="341" fill="#7c7c7c"/><ellipse cx="369.8" cy="192.6" rx="69.0" ry="57.8" fill="#8a8a8a" fill-opacity="0.6"/><ellipse cx="355.0" cy="112.3" rx="29.6" ry="64.2" fill="#6a6a6a" fill-opacity="0.35"/><ellipse cx="59.2" cy="128.4" rx="39.4" ry="44.9" fill="#868686" fill-opacity="0.5"/><ellipse cx="419.1" cy="250.4" rx="49.3" ry="25.7" fill="#8e8e8e" fill-opacity="0.5"/><ellipse cx="197.2" cy="64.2" rx="29.6" ry="25.7" fill="#8c8c8c" fill-opacity="0.5"/><path d="M0,317.8 L493,244.0" stroke="#5e5e5e" stroke-width="2" stroke-opacity="0.7"/><polygon points="431.4,77.0 446.2,78.6 438.8,123.6 425.0,122.0" fill="#b5b5b5"/><path d="M108.0,53.0 C112.7,54.8 128.7,56.2 136.6,63.9 C144.4,71.5 150.0,87.3 155.3,98.9 C160.6,110.5 161.2,123.0 168.1,133.5 C175.0,144.1 186.2,153.7 196.7,162.1 C207.2,170.5 220.7,174.5 231.2,183.9 C241.7,193.4 253.7,209.4 259.8,218.9 C265.9,228.4 266.3,230.5 267.7,241.1 C269.1,251.7 268.3,269.2 268.2,282.5 C268.1,295.8 267.4,314.6 267.2,321.0" fill="none" stroke="#242424" stroke-width="11" stroke-linecap="round"/><path d="M106.0,53.0 l24.7,6.4" stroke="#242424" stroke-width="15" stroke-linecap="round"/><path d="M256.4,239.1 L288.4,242.4" stroke="#242424" stroke-width="2.6"/></g><rect x="106.2" y="45.2" width="176.3" height="245.0" fill="none" stroke="#fff" stroke-width="3"/><rect x="419.2" y="70.5" width="38.0" height="59.5" fill="none" stroke="#fff" stroke-width="5"/></svg><svg style="left:2327px;top:1199px;overflow:hidden" width="493" height="321" viewBox="0 0 493 321"><defs><filter id="fg2" filterUnits="userSpaceOnUse" x="0" y="0" width="493" height="321" color-interpolation-filters="sRGB"><feTurbulence type="fractalNoise" baseFrequency="0.16" numOctaves="3" seed="32" result="n"/><feColorMatrix in="n" type="matrix" values="0 0 0 0 0  0 0 0 0 0  0 0 0 0 0  -40 0 0 0 10.6" result="m"/><feMerge><feMergeNode in="SourceGraphic"/><feMergeNode in="m"/></feMerge></filter></defs><g filter="url(#fg2)"><rect x="-10" y="-10" width="513" height="341" fill="#ffffff"/><path d="M108.0,53.0 C112.7,54.8 128.7,56.2 136.6,63.9 C144.4,71.5 150.0,87.3 155.3,98.9 C160.6,110.5 161.2,123.0 168.1,133.5 C175.0,144.1 186.2,153.7 196.7,162.1 C207.2,170.5 220.7,174.5 231.2,183.9 C241.7,193.4 253.7,209.4 259.8,218.9 C265.9,228.4 266.3,230.5 267.7,241.1 C269.1,251.7 268.3,269.2 268.2,282.5 C268.1,295.8 267.4,314.6 267.2,321.0" fill="none" stroke="#000000" stroke-width="11" stroke-linecap="round"/><path d="M106.0,53.0 l24.7,6.4" stroke="#000000" stroke-width="15" stroke-linecap="round"/><path d="M256.4,239.1 L288.4,242.4" stroke="#000000" stroke-width="2.6"/><path d="M0,317.8 L271.2,277.7 M295.8,272.8 L493,242.4" stroke="#000" stroke-width="1.6" stroke-dasharray="9 3 3 5 14 4"/></g></svg><svg style="left:1828px;top:1579px;overflow:hidden" width="494" height="319" viewBox="0 0 494 319"><defs><filter id="fg3" filterUnits="userSpaceOnUse" x="-10" y="-10" width="514" height="339" color-interpolation-filters="sRGB"><feGaussianBlur in="SourceGraphic" stdDeviation="0.8" result="b"/><feTurbulence type="fractalNoise" baseFrequency="0.5" numOctaves="2" seed="33" result="n"/><feColorMatrix in="n" type="matrix" values="1.0 0 0 0 0.0  1.0 0 0 0 0.0  1.0 0 0 0 0.0  0 0 0 0 1" result="n2"/><feComposite in="b" in2="n2" operator="arithmetic" k1="1.4" k2="0.5" k3="0.16" k4="-0.05"/></filter></defs><g filter="url(#fg3)"><rect x="-10" y="-10" width="514" height="339" fill="#141414"/><polygon points="434.7,76.6 444.6,78.2 439.7,121.2 429.8,119.6" fill="#4a4a4a"/><path d="M108.2,52.6 C113.0,54.4 128.9,55.9 136.8,63.5 C144.7,71.1 150.3,86.7 155.6,98.3 C160.9,109.8 161.5,122.2 168.5,132.7 C175.4,143.2 186.6,152.7 197.1,161.1 C207.6,169.4 221.1,173.4 231.7,182.8 C242.2,192.2 254.2,208.1 260.3,217.6 C266.4,227.0 266.8,229.0 268.2,239.6 C269.6,250.1 268.8,267.5 268.7,280.7 C268.7,294.0 267.9,312.6 267.7,319.0" fill="none" stroke="#858585" stroke-width="7.5" stroke-linecap="round"/><path d="M106.2,52.6 l24.7,6.4" stroke="#858585" stroke-width="11.5" stroke-linecap="round"/><path d="M256.9,237.7 L289.0,240.8" stroke="#858585" stroke-width="2.6"/></g><rect x="106.5" y="42.2" width="176.0" height="244.3" fill="none" stroke="#fff" stroke-width="3"/><rect x="419.1" y="74.2" width="38.4" height="59.1" fill="none" stroke="#fff" stroke-width="5"/></svg><svg style="left:2327px;top:1580px;overflow:hidden" width="493" height="319" viewBox="0 0 493 319"><defs><filter id="fg4" filterUnits="userSpaceOnUse" x="0" y="0" width="493" height="319" color-interpolation-filters="sRGB"><feTurbulence type="fractalNoise" baseFrequency="0.16" numOctaves="3" seed="34" result="n"/><feColorMatrix in="n" type="matrix" values="0 0 0 0 1  0 0 0 0 1  0 0 0 0 1  -40 0 0 0 10.1" result="m"/><feMerge><feMergeNode in="SourceGraphic"/><feMergeNode in="m"/></feMerge></filter></defs><g filter="url(#fg4)"><rect x="-10" y="-10" width="513" height="339" fill="#000000"/><path d="M108.0,52.6 C112.7,54.4 128.7,55.9 136.6,63.5 C144.4,71.1 150.0,86.7 155.3,98.3 C160.6,109.8 161.2,122.2 168.1,132.7 C175.0,143.2 186.2,152.7 196.7,161.1 C207.2,169.4 220.7,173.4 231.2,182.8 C241.7,192.2 253.7,208.1 259.8,217.6 C265.9,227.0 266.3,229.0 267.7,239.6 C269.1,250.1 268.3,267.5 268.2,280.7 C268.1,294.0 267.4,312.6 267.2,319.0" fill="none" stroke="#ffffff" stroke-width="7" stroke-linecap="round"/><path d="M106.0,52.6 l24.7,6.4" stroke="#ffffff" stroke-width="11" stroke-linecap="round"/><path d="M256.4,237.7 L288.4,240.8" stroke="#ffffff" stroke-width="2.6"/></g></svg><svg style="left:0;top:0" width="4417" height="2281" viewBox="0 0 4417 2281"><g stroke="#ff0000" stroke-width="3" fill="none">
<path d="M1692,1266 L1820,1355.5 M1692,1549 L1822,1368 M1692,1549 L1821,1731 M1692,1845 L1820,1743.5"/></g>
<g fill="#ff0000"><path d="M1828,1361 L1810,1357.5 L1817.5,1347 Z"/><path d="M1828,1361.5 L1823.5,1379 L1812.5,1371 Z"/><path d="M1828,1737 L1811.5,1729.5 L1822.5,1721.5 Z"/><path d="M1828,1737.5 L1818.5,1752.5 L1810.5,1742.5 Z"/></g></svg>
<div class="a lab" style="left:1699px;top:1370.3px;">GF-3</div>
<div class="a lab" style="left:1699px;top:1654.2px;">RD-2</div>
<div class="a lab" style="left:1699px;top:1884.8px;">GF-3</div>
<div class="a" style="left:2015.6px;top:1529.6px;font-family:'Liberation Serif',serif;font-weight:bold;font-size:37px;line-height:40px;white-space:nowrap;">GF-3</div>
<div class="a" style="left:2514.4px;top:1529.1px;font-family:'Liberation Serif',serif;font-weight:bold;font-size:37px;line-height:40px;white-space:nowrap;">GF-3</div>
<div class="a" style="left:2015.6px;top:1911.0px;font-family:'Liberation Serif',serif;font-weight:bold;font-size:37px;line-height:40px;white-space:nowrap;">GF-3</div>
<div class="a" style="left:2514.4px;top:1911.0px;font-family:'Liberation Serif',serif;font-weight:bold;font-size:37px;line-height:40px;white-space:nowrap;">GF-3</div>
<svg style="left:2851px;top:1130px;overflow:hidden;background:#000" width="440" height="685" viewBox="0 0 440 685"><defs><filter id="paf" filterUnits="userSpaceOnUse" x="-20" y="-20" width="480" height="725" color-interpolation-filters="sRGB"><feGaussianBlur in="SourceGraphic" stdDeviation="0.7" result="b"/><feTurbulence type="fractalNoise" baseFrequency="0.045 0.075" numOctaves="4" seed="41" result="n"/><feColorMatrix in="n" type="matrix" values="1.15 0 0 0 -0.075  1.15 0 0 0 -0.075  1.15 0 0 0 -0.075  0 0 0 0 1" result="n2"/><feComposite in="b" in2="n2" operator="arithmetic" k1="0.9" k2="0.55" k3="0" k4="0"/></filter><clipPath id="pac"><polygon points="0.0,80.0 373.5,0.0 435.3,564.0 64.4,664.6"/></clipPath></defs><g clip-path="url(#pac)"><g filter="url(#paf)"><rect x="-20" y="-20" width="480" height="725" fill="#93b86e"/><polygon points="0,70 95,40 150,330 190,700 60,700 0,400" fill="#cfe2c8" fill-opacity="0.4"/><polygon points="250,560 440,520 440,600 300,700" fill="#cfe2c8" fill-opacity="0.35"/><path d="M77.3,61.8 C81.6,79.9 97.5,135.7 103.0,170.0 C108.6,204.4 104.3,234.4 110.8,267.9 C117.2,301.4 132.7,342.6 141.7,370.9 C150.7,399.3 155.8,413.9 164.9,437.9 C173.9,462.0 187.6,482.6 195.8,515.2 C203.9,547.8 210.8,613.9 213.8,633.7" fill="none" stroke="#7d9f58" stroke-width="24" stroke-linecap="round"/><path d="M154.6,226.7 C161.4,223.3 182.9,214.7 195.8,206.1 C208.7,197.5 219.8,183.8 231.8,175.2 C243.9,166.6 255.0,164.0 267.9,154.6 C280.8,145.1 290.2,129.2 309.1,118.5 C328.0,107.8 369.2,94.9 381.2,90.2" fill="none" stroke="#5c7a40" stroke-width="19" stroke-linecap="round"/><path d="M226.7,399.3 C231.8,391.1 245.6,363.2 257.6,350.3 C269.6,337.5 283.4,328.0 298.8,322.0 C314.3,316.0 330.6,316.4 350.3,314.3 C370.1,312.1 406.1,310.0 417.3,309.1" fill="none" stroke="#5c7a40" stroke-width="11" stroke-linecap="round"/><g transform="matrix(3.74 -0.8 0.427 3.9 0 80)"><path fill="#a9c65a" d="M56.8,35.5h1.3v15.1h-1.3zM65.9,55.4h1.8v13.3h-1.8zM56.4,62.6h1.9v13.4h-1.9zM55.3,64.4h2.5v10.1h-2.5zM47.1,59.9h1.0v8.4h-1.0zM76.4,60.9h2.5v11.5h-2.5zM73.6,78.6h2.8v6.3h-2.8zM66.3,68.7h1.1v11.1h-1.1zM45.4,67.1h1.4v14.7h-1.4zM47.5,50.5h2.2v12.9h-2.2zM60.7,65.9h1.3v7.8h-1.3zM60.5,77.5h2.6v12.3h-2.6zM71.6,74.8h2.1v9.8h-2.1zM51.3,73.0h3.0v15.0h-3.0zM52.2,40.9h2.0v6.9h-2.0zM74.4,68.7h1.3v10.6h-1.3zM48.8,29.9h1.9v8.9h-1.9zM50.5,71.9h2.1v15.0h-2.1zM67.1,60.9h2.3v15.2h-2.3zM51.7,30.5h2.2v6.2h-2.2zM65.4,63.1h2.4v15.9h-2.4zM52.3,65.5h1.2v15.4h-1.2zM50.5,49.9h0.9v6.4h-0.9zM58.3,60.4h3.0v13.6h-3.0zM85.5,25.6h1.4v8.0h-1.4zM86.7,28.7h1.2v4.1h-1.2zM79.7,5.0h2.8v7.0h-2.8zM81.6,1.9h1.2v9.4h-1.2zM93.8,94.1h1.7v5.9h-1.7zM98.7,52.8h2.1v9.8h-2.1zM92.2,86.9h1.0v8.5h-1.0zM86.1,58.5h2.5v9.2h-2.5zM87.8,51.1h1.2v9.7h-1.2zM77.5,88.1h2.1v8.8h-2.1zM80.2,59.7h2.3v6.5h-2.3zM80.5,76.5h1.0v6.6h-1.0zM82.7,64.8h2.1v7.1h-2.1zM86.1,78.3h1.2v6.7h-1.2zM63.3,101.8h2.3v6.6h-2.3zM47.4,125.6h2.8v8.6h-2.8zM54.6,104.9h2.4v5.0h-2.4zM53.3,104.5h1.5v4.6h-1.5zM44.4,120.6h1.7v8.2h-1.7zM44.1,135.3h2.1v5.3h-2.1zM55.8,136.8h1.6v4.8h-1.6zM66.7,96.8h3.0v7.5h-3.0zM61.3,94.2h2.6v9.6h-2.6zM60.4,132.3h2.4v6.2h-2.4zM43.8,111.5h3.2v8.1h-3.2zM50.3,107.1h1.8v6.8h-1.8zM54.5,112.6h2.4v9.9h-2.4zM100.1,121.2h2.3v4.5h-2.3zM101.7,105.3h1.9v4.2h-1.9zM86.3,130.2h1.5v6.1h-1.5zM89.7,111.0h1.4v6.9h-1.4zM93.9,119.3h1.3v8.3h-1.3zM5.9,112.1h1.0v4.7h-1.0zM23.1,118.8h1.9v5.7h-1.9zM39.0,12.1h2.1v4.2h-2.1zM50.1,42.8h2.4v3.8h-2.4zM52.2,28.9h2.7v4.7h-2.7zM62.8,15.5h1.6v7.1h-1.6z"/><path fill="#2b2fa0" d="M68.1,63.1h2.8v10.4h-2.8zM42.9,68.5h2.5v15.8h-2.5zM65.3,55.6h1.8v6.2h-1.8zM72.3,65.0h1.6v7.4h-1.6zM39.9,66.4h2.9v13.5h-2.9zM63.2,46.7h2.9v15.6h-2.9zM67.3,67.9h1.4v7.6h-1.4zM48.0,40.1h1.4v12.8h-1.4zM74.4,62.1h2.1v12.5h-2.1zM49.6,51.8h2.3v8.3h-2.3zM40.8,64.8h2.5v13.1h-2.5zM64.0,65.2h1.8v13.9h-1.8zM54.9,45.4h2.9v7.7h-2.9zM57.6,53.8h2.9v10.8h-2.9zM47.8,66.5h2.6v11.2h-2.6zM59.9,65.0h0.9v12.5h-0.9zM44.4,34.2h1.6v9.7h-1.6zM67.3,77.0h3.1v13.7h-3.1zM47.8,42.1h0.9v10.9h-0.9zM58.3,74.4h2.7v12.5h-2.7zM69.3,76.0h2.8v15.2h-2.8zM56.1,32.4h1.6v8.6h-1.6zM43.6,73.3h0.9v10.4h-0.9zM42.9,40.5h2.8v10.0h-2.8zM65.8,49.4h1.9v13.7h-1.9zM57.5,67.5h1.1v7.5h-1.1zM63.4,68.5h2.4v12.2h-2.4zM53.5,67.9h2.5v10.6h-2.5zM55.6,52.7h1.1v12.3h-1.1zM67.2,67.8h3.1v10.1h-3.1zM69.9,74.3h2.3v8.7h-2.3zM67.7,44.7h3.2v12.7h-3.2zM53.4,63.2h2.7v14.2h-2.7zM70.1,12.6h1.2v5.7h-1.2zM73.0,22.2h2.0v7.3h-2.0zM68.4,-4.7h1.0v9.4h-1.0zM77.1,25.3h2.2v6.1h-2.2zM93.0,3.7h2.8v8.9h-2.8zM77.3,12.9h1.8v5.4h-1.8zM67.4,1.8h2.8v5.2h-2.8zM78.2,14.6h2.8v8.7h-2.8zM97.3,4.4h2.8v9.2h-2.8zM87.9,88.9h2.3v6.0h-2.3zM76.7,77.2h1.0v7.3h-1.0zM77.6,74.6h1.7v4.3h-1.7zM98.6,84.4h3.0v8.6h-3.0zM75.2,78.4h1.2v7.9h-1.2zM80.7,71.3h1.9v6.3h-1.9zM85.7,80.7h2.8v7.2h-2.8zM77.3,89.6h2.0v6.9h-2.0zM79.1,56.0h1.9v8.9h-1.9zM59.6,99.6h1.3v6.5h-1.3zM46.6,131.4h1.7v7.2h-1.7zM59.0,134.1h1.7v9.3h-1.7zM50.1,107.6h2.4v10.4h-2.4zM67.4,135.0h1.1v7.0h-1.1zM63.6,122.2h1.5v6.4h-1.5zM46.5,135.9h2.2v4.8h-2.2zM54.2,94.1h1.2v6.2h-1.2zM58.9,132.2h1.8v10.1h-1.8zM95.6,115.8h1.8v5.8h-1.8zM97.4,135.7h2.4v5.5h-2.4zM96.0,103.7h1.8v6.4h-1.8zM84.5,104.4h2.3v7.2h-2.3zM102.2,108.3h1.3v5.6h-1.3zM90.6,96.2h1.5v8.1h-1.5zM100.8,107.1h3.1v6.2h-3.1zM17.3,117.0h2.3v6.7h-2.3zM8.7,126.4h1.5v5.9h-1.5zM3.4,117.4h1.8v4.2h-1.8zM13.4,107.7h2.1v3.3h-2.1zM19.2,111.6h1.0v6.7h-1.0zM23.1,90.2h2.8v2.0h-2.8zM29.3,74.0h2.1v2.2h-2.1zM50.6,10.1h1.8v7.5h-1.8zM39.6,20.7h3.1v3.6h-3.1zM53.6,35.1h1.9v7.0h-1.9zM58.7,25.2h1.5v5.0h-1.5zM59.8,27.9h1.9v6.2h-1.9z"/><path fill="#d9d9b2" d="M45.5,60.5h1.3v12.5h-1.3zM47.2,63.8h2.6v7.3h-2.6zM74.8,51.4h3.1v10.5h-3.1zM50.0,70.5h1.3v12.8h-1.3zM84.6,10.9h2.2v4.6h-2.2zM92.6,4.4h1.3v6.9h-1.3zM101.2,66.4h1.6v5.1h-1.6zM93.1,93.2h2.9v4.6h-2.9zM59.7,103.2h1.4v9.3h-1.4zM48.0,115.0h1.6v7.1h-1.6zM62.2,96.3h2.1v7.7h-2.1zM57.0,126.0h2.4v10.5h-2.4zM49.1,107.4h1.4v9.7h-1.4zM49.0,119.8h1.4v10.9h-1.4zM86.4,110.7h2.1v4.9h-2.1zM28.6,122.1h0.9v3.3h-0.9zM18.0,116.2h2.3v4.4h-2.3zM12.8,50.6h1.1v3.6h-1.1zM56.9,11.8h2.9v4.9h-2.9z"/><path fill="#7e62b2" d="M42.0,61.9h1.0v14.7h-1.0zM60.8,27.9h2.0v15.4h-2.0zM45.5,60.1h2.1v6.3h-2.1zM58.7,28.2h2.2v15.6h-2.2zM74.8,44.8h1.8v10.3h-1.8zM68.3,67.7h2.9v14.4h-2.9zM79.7,2.1h2.0v8.7h-2.0zM88.1,28.1h2.1v6.8h-2.1zM69.4,7.3h1.4v7.7h-1.4zM86.0,86.2h1.5v7.4h-1.5zM41.5,123.4h2.0v8.1h-2.0zM51.3,107.7h1.6v10.8h-1.6zM67.2,105.6h1.7v4.9h-1.7zM60.3,104.6h1.4v6.0h-1.4zM68.8,120.3h2.2v4.7h-2.2zM51.8,102.4h2.2v7.9h-2.2zM61.1,112.9h3.2v8.6h-3.2zM85.6,136.1h1.4v5.2h-1.4zM99.7,96.8h1.4v8.6h-1.4zM79.2,123.5h3.1v8.2h-3.1zM18.6,131.2h2.8v6.4h-2.8zM3.8,69.1h1.6v4.3h-1.6zM25.9,76.6h3.1v2.7h-3.1zM60.9,21.3h2.4v4.2h-2.4zM43.7,20.6h2.3v7.9h-2.3z"/><path fill="#22302a" d="M51.7,58.8h2.3v7.8h-2.3zM74.2,47.0h3.0v9.8h-3.0zM44.3,66.4h2.3v14.3h-2.3zM72.7,36.8h3.0v15.7h-3.0zM70.4,71.1h1.7v7.7h-1.7zM66.0,54.5h1.5v12.9h-1.5zM41.4,57.1h2.3v6.9h-2.3zM57.9,54.7h2.0v10.2h-2.0zM40.7,73.8h3.0v8.6h-3.0zM65.3,59.1h1.9v14.7h-1.9zM64.9,65.4h1.6v12.0h-1.6zM70.3,-2.9h1.1v9.7h-1.1zM86.3,5.9h1.8v6.2h-1.8zM81.4,15.2h1.4v5.7h-1.4zM83.4,4.0h2.9v7.4h-2.9zM69.1,19.6h2.2v9.6h-2.2zM83.5,82.8h3.1v4.4h-3.1zM92.1,68.3h2.2v7.3h-2.2zM52.0,90.8h1.5v10.8h-1.5zM55.4,99.9h2.6v6.2h-2.6zM56.6,123.1h2.5v9.8h-2.5zM40.2,130.4h1.7v6.7h-1.7zM57.5,93.6h3.0v9.1h-3.0zM92.3,110.0h2.4v6.5h-2.4zM19.6,144.4h2.8v5.3h-2.8zM9.5,81.9h2.9v3.5h-2.9zM40.5,17.1h3.1v4.9h-3.1z"/><path fill="#191a52" d="M73.3,43.9h1.2v12.7h-1.2zM77.8,43.4h1.4v12.9h-1.4zM52.2,58.6h3.0v15.1h-3.0zM70.1,39.5h2.7v9.2h-2.7zM53.4,25.0h2.7v13.3h-2.7zM42.4,65.0h1.6v15.0h-1.6zM63.3,72.0h3.0v15.6h-3.0zM66.7,40.6h1.5v14.5h-1.5zM41.8,68.2h3.2v9.1h-3.2zM75.1,59.6h1.9v10.3h-1.9zM45.4,65.3h1.1v14.0h-1.1zM77.1,50.8h3.1v7.5h-3.1zM52.3,36.0h1.1v11.1h-1.1zM61.4,38.8h1.1v10.3h-1.1zM54.6,50.7h1.7v8.5h-1.7zM45.2,77.2h1.0v6.2h-1.0zM59.7,79.6h2.1v9.4h-2.1zM60.0,53.7h1.1v6.6h-1.1zM67.0,38.3h2.6v12.4h-2.6zM77.0,45.7h2.4v14.1h-2.4zM65.3,25.5h1.7v15.9h-1.7zM64.2,40.8h2.0v14.2h-2.0zM71.2,19.5h2.0v8.1h-2.0zM87.7,20.1h1.9v5.8h-1.9zM74.0,23.1h1.6v4.1h-1.6zM83.5,82.6h2.0v6.9h-2.0zM78.8,90.4h3.1v5.3h-3.1zM94.7,67.6h1.9v7.4h-1.9zM85.4,78.3h2.7v8.1h-2.7zM78.8,81.9h2.1v9.7h-2.1zM82.5,69.5h3.2v8.7h-3.2zM97.3,86.9h1.7v4.5h-1.7zM98.1,95.5h2.3v6.0h-2.3zM100.7,82.0h1.4v8.2h-1.4zM86.3,64.6h1.8v5.2h-1.8zM94.5,94.7h2.8v7.9h-2.8zM102.4,66.1h2.3v6.0h-2.3zM96.0,81.4h2.1v5.8h-2.1zM62.7,123.4h1.2v4.6h-1.2zM44.8,128.8h2.8v7.2h-2.8zM63.5,133.0h1.0v9.5h-1.0zM43.8,112.2h2.9v6.7h-2.9zM56.6,107.6h1.0v5.9h-1.0zM46.8,92.8h2.3v9.4h-2.3zM50.2,111.7h1.9v5.5h-1.9zM58.6,121.4h2.1v8.5h-2.1zM54.3,122.9h1.0v5.8h-1.0zM83.8,130.6h3.2v5.5h-3.2zM99.6,99.1h2.9v4.9h-2.9zM80.3,132.5h2.6v6.0h-2.6zM91.2,116.9h1.2v7.2h-1.2zM27.8,128.4h3.0v3.3h-3.0zM24.1,128.6h1.7v5.7h-1.7zM15.9,131.6h0.9v4.5h-0.9zM3.0,106.0h2.3v3.7h-2.3zM8.7,97.5h1.7v2.3h-1.7zM20.0,74.5h2.7v3.1h-2.7zM8.0,97.7h1.2v4.4h-1.2zM51.9,37.2h1.3v5.5h-1.3z"/><path fill="#d2a2ca" d="M66.8,33.6h2.9v12.6h-2.9zM50.9,53.8h1.6v14.0h-1.6zM66.2,70.2h2.9v10.4h-2.9zM41.2,68.1h3.0v14.0h-3.0zM54.0,50.8h1.7v9.9h-1.7zM53.3,69.6h3.1v10.0h-3.1zM64.5,61.0h2.5v7.8h-2.5zM72.1,82.5h2.7v7.6h-2.7zM39.1,71.5h2.5v8.6h-2.5zM58.5,69.2h1.0v12.3h-1.0zM75.9,59.8h3.0v11.2h-3.0zM95.2,21.9h2.7v7.2h-2.7zM87.8,10.5h0.9v7.4h-0.9zM72.4,-2.0h2.5v7.5h-2.5zM87.8,22.1h2.4v9.8h-2.4zM92.5,-0.2h1.4v6.1h-1.4zM92.7,-1.2h1.6v9.5h-1.6zM90.1,73.6h2.0v8.9h-2.0zM89.4,59.2h1.5v4.3h-1.5zM62.8,138.3h3.1v5.2h-3.1zM48.6,134.5h3.0v9.2h-3.0zM67.3,100.6h2.8v6.4h-2.8zM85.1,96.9h1.2v5.2h-1.2zM92.2,99.4h2.3v6.5h-2.3zM87.9,124.5h2.8v7.5h-2.8zM96.4,102.6h1.3v8.1h-1.3zM28.3,110.8h1.6v5.3h-1.6z"/><path fill="#6f9a4a" d="M46.0,42.0h1.1v14.4h-1.1zM58.7,63.7h1.6v7.8h-1.6zM67.3,71.7h3.1v7.7h-3.1zM70.5,37.4h1.9v12.4h-1.9zM89.7,19.0h1.1v8.6h-1.1zM80.0,10.3h1.8v5.7h-1.8zM82.0,52.1h1.6v5.9h-1.6zM87.8,57.2h3.2v4.2h-3.2zM82.3,88.4h2.6v4.1h-2.6zM96.0,65.9h1.8v6.7h-1.8zM77.1,60.1h2.7v4.4h-2.7zM55.0,117.7h3.0v10.3h-3.0zM57.9,94.7h2.1v5.4h-2.1zM50.9,134.5h2.6v10.0h-2.6zM92.1,117.1h2.6v4.8h-2.6zM3.0,96.2h2.0v2.4h-2.0z"/></g><path d="M67.0,72.1 C68.7,77.3 72.6,86.7 77.3,103.0 C82.0,119.4 92.7,150.3 95.3,170.0 C97.9,189.8 91.4,205.2 92.7,221.5 C94.0,237.8 97.9,249.9 103.0,267.9 C108.2,285.9 118.1,310.8 123.6,329.7 C129.2,348.6 131.4,364.9 136.5,381.2 C141.7,397.6 149.0,411.3 154.6,427.6 C160.1,443.9 166.2,460.2 170.0,479.1 C173.9,498.0 176.0,525.5 177.7,541.0 C179.5,556.4 177.3,559.8 180.3,571.9 C183.3,583.9 191.5,604.1 195.8,613.1 C200.1,622.1 204.4,623.8 206.1,626.0" fill="none" stroke="#141c10" stroke-width="1.6"/></g></g></svg><svg style="left:3384px;top:1129px;overflow:hidden;background:#000" width="439" height="685" viewBox="0 0 439 685"><defs><filter id="pbf" filterUnits="userSpaceOnUse" x="-20" y="-20" width="479" height="725" color-interpolation-filters="sRGB"><feGaussianBlur in="SourceGraphic" stdDeviation="0.7" result="b"/><feTurbulence type="fractalNoise" baseFrequency="0.045 0.075" numOctaves="4" seed="41" result="n"/><feColorMatrix in="n" type="matrix" values="1.15 0 0 0 -0.075  1.15 0 0 0 -0.075  1.15 0 0 0 -0.075  0 0 0 0 1" result="n2"/><feComposite in="b" in2="n2" operator="arithmetic" k1="0.9" k2="0.55" k3="0" k4="0"/></filter><clipPath id="pbc"><polygon points="0.0,80.0 381.0,0.0 435.3,564.0 43.8,669.8"/></clipPath></defs><g clip-path="url(#pbc)"><g filter="url(#pbf)"><rect x="-20" y="-20" width="479" height="725" fill="#5b7679"/><polygon points="0,70 95,40 150,330 190,700 60,700 0,400" fill="#9aa6b4" fill-opacity="0.22"/><polygon points="250,560 440,520 440,600 300,700" fill="#9aa6b4" fill-opacity="0.35"/><path d="M77.3,61.8 C81.6,79.9 97.5,135.7 103.0,170.0 C108.6,204.4 104.3,234.4 110.8,267.9 C117.2,301.4 132.7,342.6 141.7,370.9 C150.7,399.3 155.8,413.9 164.9,437.9 C173.9,462.0 187.6,482.6 195.8,515.2 C203.9,547.8 210.8,613.9 213.8,633.7" fill="none" stroke="#84434d" stroke-width="40" stroke-linecap="round"/><path d="M154.6,226.7 C161.4,223.3 182.9,214.7 195.8,206.1 C208.7,197.5 219.8,183.8 231.8,175.2 C243.9,166.6 255.0,164.0 267.9,154.6 C280.8,145.1 290.2,129.2 309.1,118.5 C328.0,107.8 369.2,94.9 381.2,90.2" fill="none" stroke="#7c3a4c" stroke-width="24" stroke-linecap="round"/><path d="M226.7,399.3 C231.8,391.1 245.6,363.2 257.6,350.3 C269.6,337.5 283.4,328.0 298.8,322.0 C314.3,316.0 330.6,316.4 350.3,314.3 C370.1,312.1 406.1,310.0 417.3,309.1" fill="none" stroke="#7c3a4c" stroke-width="14" stroke-linecap="round"/><g transform="matrix(3.74 -0.8 0.427 3.9 0 80)"><path fill="#b22a52" d="M56.8,35.5h1.3v15.1h-1.3zM65.9,55.4h1.8v13.3h-1.8zM45.5,60.5h1.3v12.5h-1.3zM56.4,62.6h1.9v13.4h-1.9zM47.1,59.9h1.0v8.4h-1.0zM73.6,78.6h2.8v6.3h-2.8zM66.3,68.7h1.1v11.1h-1.1zM74.8,51.4h3.1v10.5h-3.1zM52.2,40.9h2.0v6.9h-2.0zM74.4,68.7h1.3v10.6h-1.3zM50.5,71.9h2.1v15.0h-2.1zM67.1,60.9h2.3v15.2h-2.3zM50.0,70.5h1.3v12.8h-1.3zM58.3,60.4h3.0v13.6h-3.0zM84.6,10.9h2.2v4.6h-2.2zM86.7,28.7h1.2v4.1h-1.2zM92.6,4.4h1.3v6.9h-1.3zM79.7,5.0h2.8v7.0h-2.8zM81.6,1.9h1.2v9.4h-1.2zM101.2,66.4h1.6v5.1h-1.6zM93.8,94.1h1.7v5.9h-1.7zM98.7,52.8h2.1v9.8h-2.1zM87.8,51.1h1.2v9.7h-1.2zM77.5,88.1h2.1v8.8h-2.1zM80.2,59.7h2.3v6.5h-2.3zM93.1,93.2h2.9v4.6h-2.9zM82.7,64.8h2.1v7.1h-2.1zM59.7,103.2h1.4v9.3h-1.4zM48.0,115.0h1.6v7.1h-1.6zM62.2,96.3h2.1v7.7h-2.1zM54.6,104.9h2.4v5.0h-2.4zM57.0,126.0h2.4v10.5h-2.4zM61.3,94.2h2.6v9.6h-2.6zM60.4,132.3h2.4v6.2h-2.4zM49.0,119.8h1.4v10.9h-1.4zM100.1,121.2h2.3v4.5h-2.3zM86.4,110.7h2.1v4.9h-2.1zM101.7,105.3h1.9v4.2h-1.9zM86.3,130.2h1.5v6.1h-1.5zM89.7,111.0h1.4v6.9h-1.4zM5.9,112.1h1.0v4.7h-1.0zM39.0,12.1h2.1v4.2h-2.1zM50.1,42.8h2.4v3.8h-2.4zM56.9,11.8h2.9v4.9h-2.9zM52.2,28.9h2.7v4.7h-2.7z"/><path fill="#efeed6" d="M68.1,63.1h2.8v10.4h-2.8zM42.9,68.5h2.5v15.8h-2.5zM73.3,43.9h1.2v12.7h-1.2zM65.3,55.6h1.8v6.2h-1.8zM72.3,65.0h1.6v7.4h-1.6zM39.9,66.4h2.9v13.5h-2.9zM63.2,46.7h2.9v15.6h-2.9zM55.3,64.4h2.5v10.1h-2.5zM77.8,43.4h1.4v12.9h-1.4zM67.3,67.9h1.4v7.6h-1.4zM48.0,40.1h1.4v12.8h-1.4zM76.4,60.9h2.5v11.5h-2.5zM74.4,62.1h2.1v12.5h-2.1zM52.2,58.6h3.0v15.1h-3.0zM49.6,51.8h2.3v8.3h-2.3zM40.8,64.8h2.5v13.1h-2.5zM70.1,39.5h2.7v9.2h-2.7zM45.4,67.1h1.4v14.7h-1.4zM53.4,25.0h2.7v13.3h-2.7zM47.5,50.5h2.2v12.9h-2.2zM60.7,65.9h1.3v7.8h-1.3zM64.0,65.2h1.8v13.9h-1.8zM54.9,45.4h2.9v7.7h-2.9zM42.4,65.0h1.6v15.0h-1.6zM63.3,72.0h3.0v15.6h-3.0zM57.6,53.8h2.9v10.8h-2.9zM47.8,66.5h2.6v11.2h-2.6zM66.7,40.6h1.5v14.5h-1.5zM41.8,68.2h3.2v9.1h-3.2zM59.9,65.0h0.9v12.5h-0.9zM44.4,34.2h1.6v9.7h-1.6zM60.5,77.5h2.6v12.3h-2.6zM67.3,77.0h3.1v13.7h-3.1zM75.1,59.6h1.9v10.3h-1.9zM71.6,74.8h2.1v9.8h-2.1zM51.3,73.0h3.0v15.0h-3.0zM45.4,65.3h1.1v14.0h-1.1zM47.8,42.1h0.9v10.9h-0.9zM58.3,74.4h2.7v12.5h-2.7zM77.1,50.8h3.1v7.5h-3.1zM52.3,36.0h1.1v11.1h-1.1zM48.8,29.9h1.9v8.9h-1.9zM69.3,76.0h2.8v15.2h-2.8zM56.1,32.4h1.6v8.6h-1.6zM61.4,38.8h1.1v10.3h-1.1zM43.6,73.3h0.9v10.4h-0.9zM42.9,40.5h2.8v10.0h-2.8zM65.8,49.4h1.9v13.7h-1.9zM57.5,67.5h1.1v7.5h-1.1zM63.4,68.5h2.4v12.2h-2.4zM54.6,50.7h1.7v8.5h-1.7zM51.7,30.5h2.2v6.2h-2.2zM53.5,67.9h2.5v10.6h-2.5zM65.4,63.1h2.4v15.9h-2.4zM55.6,52.7h1.1v12.3h-1.1zM45.2,77.2h1.0v6.2h-1.0zM52.3,65.5h1.2v15.4h-1.2zM50.5,49.9h0.9v6.4h-0.9zM59.7,79.6h2.1v9.4h-2.1zM60.0,53.7h1.1v6.6h-1.1zM67.0,38.3h2.6v12.4h-2.6zM77.0,45.7h2.4v14.1h-2.4zM67.2,67.8h3.1v10.1h-3.1zM69.9,74.3h2.3v8.7h-2.3zM65.3,25.5h1.7v15.9h-1.7zM67.7,44.7h3.2v12.7h-3.2zM53.4,63.2h2.7v14.2h-2.7zM64.2,40.8h2.0v14.2h-2.0zM85.5,25.6h1.4v8.0h-1.4zM70.1,12.6h1.2v5.7h-1.2zM73.0,22.2h2.0v7.3h-2.0zM68.4,-4.7h1.0v9.4h-1.0zM71.2,19.5h2.0v8.1h-2.0zM87.7,20.1h1.9v5.8h-1.9zM77.1,25.3h2.2v6.1h-2.2zM93.0,3.7h2.8v8.9h-2.8zM77.3,12.9h1.8v5.4h-1.8zM74.0,23.1h1.6v4.1h-1.6zM67.4,1.8h2.8v5.2h-2.8zM78.2,14.6h2.8v8.7h-2.8zM97.3,4.4h2.8v9.2h-2.8zM87.9,88.9h2.3v6.0h-2.3zM83.5,82.6h2.0v6.9h-2.0zM78.8,90.4h3.1v5.3h-3.1zM94.7,67.6h1.9v7.4h-1.9zM76.7,77.2h1.0v7.3h-1.0zM85.4,78.3h2.7v8.1h-2.7zM78.8,81.9h2.1v9.7h-2.1zM82.5,69.5h3.2v8.7h-3.2zM92.2,86.9h1.0v8.5h-1.0zM97.3,86.9h1.7v4.5h-1.7zM86.1,58.5h2.5v9.2h-2.5zM77.6,74.6h1.7v4.3h-1.7zM98.1,95.5h2.3v6.0h-2.3zM98.6,84.4h3.0v8.6h-3.0zM75.2,78.4h1.2v7.9h-1.2zM80.7,71.3h1.9v6.3h-1.9zM80.5,76.5h1.0v6.6h-1.0zM85.7,80.7h2.8v7.2h-2.8zM77.3,89.6h2.0v6.9h-2.0zM100.7,82.0h1.4v8.2h-1.4zM86.3,64.6h1.8v5.2h-1.8zM94.5,94.7h2.8v7.9h-2.8zM79.1,56.0h1.9v8.9h-1.9zM102.4,66.1h2.3v6.0h-2.3zM96.0,81.4h2.1v5.8h-2.1zM86.1,78.3h1.2v6.7h-1.2zM62.7,123.4h1.2v4.6h-1.2zM59.6,99.6h1.3v6.5h-1.3zM63.3,101.8h2.3v6.6h-2.3zM44.8,128.8h2.8v7.2h-2.8zM63.5,133.0h1.0v9.5h-1.0zM43.8,112.2h2.9v6.7h-2.9zM56.6,107.6h1.0v5.9h-1.0zM47.4,125.6h2.8v8.6h-2.8zM46.6,131.4h1.7v7.2h-1.7zM59.0,134.1h1.7v9.3h-1.7zM53.3,104.5h1.5v4.6h-1.5zM46.8,92.8h2.3v9.4h-2.3zM44.4,120.6h1.7v8.2h-1.7zM44.1,135.3h2.1v5.3h-2.1zM55.8,136.8h1.6v4.8h-1.6zM66.7,96.8h3.0v7.5h-3.0zM50.2,111.7h1.9v5.5h-1.9zM43.8,111.5h3.2v8.1h-3.2zM50.1,107.6h2.4v10.4h-2.4zM50.3,107.1h1.8v6.8h-1.8zM67.4,135.0h1.1v7.0h-1.1zM54.5,112.6h2.4v9.9h-2.4zM63.6,122.2h1.5v6.4h-1.5zM46.5,135.9h2.2v4.8h-2.2zM54.2,94.1h1.2v6.2h-1.2zM58.6,121.4h2.1v8.5h-2.1zM58.9,132.2h1.8v10.1h-1.8zM54.3,122.9h1.0v5.8h-1.0zM83.8,130.6h3.2v5.5h-3.2zM95.6,115.8h1.8v5.8h-1.8zM97.4,135.7h2.4v5.5h-2.4zM99.6,99.1h2.9v4.9h-2.9zM96.0,103.7h1.8v6.4h-1.8zM84.5,104.4h2.3v7.2h-2.3zM102.2,108.3h1.3v5.6h-1.3zM90.6,96.2h1.5v8.1h-1.5zM80.3,132.5h2.6v6.0h-2.6zM91.2,116.9h1.2v7.2h-1.2zM100.8,107.1h3.1v6.2h-3.1zM93.9,119.3h1.3v8.3h-1.3zM17.3,117.0h2.3v6.7h-2.3zM8.7,126.4h1.5v5.9h-1.5zM27.8,128.4h3.0v3.3h-3.0zM23.1,118.8h1.9v5.7h-1.9zM3.4,117.4h1.8v4.2h-1.8zM24.1,128.6h1.7v5.7h-1.7zM15.9,131.6h0.9v4.5h-0.9zM3.0,106.0h2.3v3.7h-2.3zM13.4,107.7h2.1v3.3h-2.1zM19.2,111.6h1.0v6.7h-1.0zM23.1,90.2h2.8v2.0h-2.8zM29.3,74.0h2.1v2.2h-2.1zM8.7,97.5h1.7v2.3h-1.7zM20.0,74.5h2.7v3.1h-2.7zM8.0,97.7h1.2v4.4h-1.2zM50.6,10.1h1.8v7.5h-1.8zM39.6,20.7h3.1v3.6h-3.1zM53.6,35.1h1.9v7.0h-1.9zM51.9,37.2h1.3v5.5h-1.3zM58.7,25.2h1.5v5.0h-1.5zM62.8,15.5h1.6v7.1h-1.6zM59.8,27.9h1.9v6.2h-1.9z"/><path fill="#6668b4" d="M42.0,61.9h1.0v14.7h-1.0zM60.8,27.9h2.0v15.4h-2.0zM45.5,60.1h2.1v6.3h-2.1zM58.7,28.2h2.2v15.6h-2.2zM74.8,44.8h1.8v10.3h-1.8zM79.7,2.1h2.0v8.7h-2.0zM88.1,28.1h2.1v6.8h-2.1zM69.4,7.3h1.4v7.7h-1.4zM41.5,123.4h2.0v8.1h-2.0zM51.3,107.7h1.6v10.8h-1.6zM67.2,105.6h1.7v4.9h-1.7zM51.8,102.4h2.2v7.9h-2.2zM61.1,112.9h3.2v8.6h-3.2zM85.6,136.1h1.4v5.2h-1.4zM18.6,131.2h2.8v6.4h-2.8zM60.9,21.3h2.4v4.2h-2.4zM43.7,20.6h2.3v7.9h-2.3z"/><path fill="#da93aa" d="M47.2,63.8h2.6v7.3h-2.6zM50.9,53.8h1.6v14.0h-1.6zM66.2,70.2h2.9v10.4h-2.9zM41.2,68.1h3.0v14.0h-3.0zM53.3,69.6h3.1v10.0h-3.1zM64.5,61.0h2.5v7.8h-2.5zM95.2,21.9h2.7v7.2h-2.7zM87.8,10.5h0.9v7.4h-0.9zM92.5,-0.2h1.4v6.1h-1.4zM92.7,-1.2h1.6v9.5h-1.6zM90.1,73.6h2.0v8.9h-2.0zM48.6,134.5h3.0v9.2h-3.0zM49.1,107.4h1.4v9.7h-1.4zM67.3,100.6h2.8v6.4h-2.8zM85.1,96.9h1.2v5.2h-1.2zM92.2,99.4h2.3v6.5h-2.3zM87.9,124.5h2.8v7.5h-2.8zM28.6,122.1h0.9v3.3h-0.9zM18.0,116.2h2.3v4.4h-2.3zM28.3,110.8h1.6v5.3h-1.6zM12.8,50.6h1.1v3.6h-1.1z"/><path fill="#cfd0b8" d="M51.7,58.8h2.3v7.8h-2.3zM74.2,47.0h3.0v9.8h-3.0zM44.3,66.4h2.3v14.3h-2.3zM46.0,42.0h1.1v14.4h-1.1zM72.7,36.8h3.0v15.7h-3.0zM70.4,71.1h1.7v7.7h-1.7zM66.0,54.5h1.5v12.9h-1.5zM41.4,57.1h2.3v6.9h-2.3zM58.7,63.7h1.6v7.8h-1.6zM67.3,71.7h3.1v7.7h-3.1zM57.9,54.7h2.0v10.2h-2.0zM40.7,73.8h3.0v8.6h-3.0zM65.3,59.1h1.9v14.7h-1.9zM70.5,37.4h1.9v12.4h-1.9zM64.9,65.4h1.6v12.0h-1.6zM70.3,-2.9h1.1v9.7h-1.1zM86.3,5.9h1.8v6.2h-1.8zM81.4,15.2h1.4v5.7h-1.4zM83.4,4.0h2.9v7.4h-2.9zM89.7,19.0h1.1v8.6h-1.1zM80.0,10.3h1.8v5.7h-1.8zM69.1,19.6h2.2v9.6h-2.2zM83.5,82.8h3.1v4.4h-3.1zM82.0,52.1h1.6v5.9h-1.6zM92.1,68.3h2.2v7.3h-2.2zM87.8,57.2h3.2v4.2h-3.2zM82.3,88.4h2.6v4.1h-2.6zM96.0,65.9h1.8v6.7h-1.8zM77.1,60.1h2.7v4.4h-2.7zM55.0,117.7h3.0v10.3h-3.0zM52.0,90.8h1.5v10.8h-1.5zM55.4,99.9h2.6v6.2h-2.6zM57.9,94.7h2.1v5.4h-2.1zM50.9,134.5h2.6v10.0h-2.6zM56.6,123.1h2.5v9.8h-2.5zM40.2,130.4h1.7v6.7h-1.7zM57.5,93.6h3.0v9.1h-3.0zM92.3,110.0h2.4v6.5h-2.4zM92.1,117.1h2.6v4.8h-2.6zM19.6,144.4h2.8v5.3h-2.8zM9.5,81.9h2.9v3.5h-2.9zM3.0,96.2h2.0v2.4h-2.0zM40.5,17.1h3.1v4.9h-3.1z"/><path fill="#6a2038" d="M66.8,33.6h2.9v12.6h-2.9zM54.0,50.8h1.7v9.9h-1.7zM72.1,82.5h2.7v7.6h-2.7zM39.1,71.5h2.5v8.6h-2.5zM58.5,69.2h1.0v12.3h-1.0zM68.3,67.7h2.9v14.4h-2.9zM75.9,59.8h3.0v11.2h-3.0zM72.4,-2.0h2.5v7.5h-2.5zM87.8,22.1h2.4v9.8h-2.4zM89.4,59.2h1.5v4.3h-1.5zM86.0,86.2h1.5v7.4h-1.5zM62.8,138.3h3.1v5.2h-3.1zM60.3,104.6h1.4v6.0h-1.4zM68.8,120.3h2.2v4.7h-2.2zM99.7,96.8h1.4v8.6h-1.4zM79.2,123.5h3.1v8.2h-3.1zM96.4,102.6h1.3v8.1h-1.3zM3.8,69.1h1.6v4.3h-1.6zM25.9,76.6h3.1v2.7h-3.1z"/></g><path d="M67.0,72.1 C68.7,77.3 72.6,86.7 77.3,103.0 C82.0,119.4 92.7,150.3 95.3,170.0 C97.9,189.8 91.4,205.2 92.7,221.5 C94.0,237.8 97.9,249.9 103.0,267.9 C108.2,285.9 118.1,310.8 123.6,329.7 C129.2,348.6 131.4,364.9 136.5,381.2 C141.7,397.6 149.0,411.3 154.6,427.6 C160.1,443.9 166.2,460.2 170.0,479.1 C173.9,498.0 176.0,525.5 177.7,541.0 C179.5,556.4 177.3,559.8 180.3,571.9 C183.3,583.9 191.5,604.1 195.8,613.1 C200.1,622.1 204.4,623.8 206.1,626.0" fill="none" stroke="#1e0a10" stroke-width="1.6"/></g></g></svg>
<div class="a" style="left:3915px;top:1133px;width:435px;height:678px;border:4px solid #161616;background:#fff;overflow:hidden"><svg style="left:0;top:0" width="435" height="678" viewBox="0 0 435 678"><path d="M46.1,74.6 L51.6,110.3 L62.6,137.7 L79.1,159.7 L92.8,192.6 L101.0,225.6 L95.5,258.5 L109.3,286.0 L120.2,324.4 L131.2,357.4 L125.7,390.3 L142.2,417.8 L164.2,439.7 L180.6,461.7 L191.6,494.6 L202.6,533.1 L208.1,577.0 L219.1,612.7" fill="none" stroke="#00ffff" stroke-width="2" stroke-dasharray="2 3 1 2 3 4"/><path d="M133.5,338.8h1.6v1.6h-1.6zM190.4,580.3h1.6v1.6h-1.6zM68.0,138.2h1.6v1.6h-1.6zM118.1,302.6h1.6v1.6h-1.6zM107.5,277.8h1.6v1.6h-1.6zM168.0,440.9h1.6v1.6h-1.6zM208.6,499.6h1.6v1.6h-1.6zM110.6,279.1h1.6v1.6h-1.6zM108.7,233.8h1.6v1.6h-1.6zM103.0,262.9h1.6v1.6h-1.6zM166.1,448.3h1.6v1.6h-1.6zM88.0,208.4h1.6v1.6h-1.6zM48.6,94.3h1.6v1.6h-1.6zM153.5,436.2h1.6v1.6h-1.6zM207.8,556.8h1.6v1.6h-1.6zM46.4,111.9h1.6v1.6h-1.6zM183.7,473.5h1.6v1.6h-1.6zM45.8,122.0h1.6v1.6h-1.6zM106.0,180.1h1.6v1.6h-1.6zM158.0,426.9h1.6v1.6h-1.6zM192.7,490.9h1.6v1.6h-1.6zM134.2,357.9h1.6v1.6h-1.6zM131.3,406.3h1.6v1.6h-1.6zM124.0,353.8h1.6v1.6h-1.6zM134.0,392.8h1.6v1.6h-1.6zM127.0,391.4h1.6v1.6h-1.6zM164.3,436.4h1.6v1.6h-1.6zM122.9,340.1h1.6v1.6h-1.6zM57.8,134.9h1.6v1.6h-1.6zM98.8,211.4h1.6v1.6h-1.6zM192.2,475.6h1.6v1.6h-1.6zM111.5,207.5h1.6v1.6h-1.6zM200.7,593.7h1.6v1.6h-1.6zM187.8,546.9h1.6v1.6h-1.6zM103.7,171.3h1.6v1.6h-1.6zM211.2,575.8h1.6v1.6h-1.6zM221.6,601.8h1.6v1.6h-1.6zM150.8,426.7h1.6v1.6h-1.6zM147.3,422.8h1.6v1.6h-1.6zM126.4,346.4h1.6v1.6h-1.6zM135.4,407.8h1.6v1.6h-1.6zM122.9,338.7h1.6v1.6h-1.6zM217.3,596.2h1.6v1.6h-1.6zM161.8,430.4h1.6v1.6h-1.6zM88.3,243.1h1.6v1.6h-1.6zM129.7,404.0h1.6v1.6h-1.6zM151.1,439.3h1.6v1.6h-1.6zM184.4,461.7h1.6v1.6h-1.6zM169.4,468.8h1.6v1.6h-1.6zM132.6,348.6h1.6v1.6h-1.6zM203.9,525.3h1.6v1.6h-1.6zM105.9,247.7h1.6v1.6h-1.6zM114.0,291.0h1.6v1.6h-1.6zM90.8,240.1h1.6v1.6h-1.6zM142.7,422.3h1.6v1.6h-1.6zM112.1,316.5h1.6v1.6h-1.6zM137.5,347.6h1.6v1.6h-1.6zM157.2,437.8h1.6v1.6h-1.6zM122.8,380.2h1.6v1.6h-1.6zM147.9,439.7h1.6v1.6h-1.6zM156.6,431.6h1.6v1.6h-1.6zM218.2,573.9h1.6v1.6h-1.6zM156.3,432.1h1.6v1.6h-1.6zM131.9,404.2h1.6v1.6h-1.6zM180.1,448.4h1.6v1.6h-1.6zM193.7,583.5h1.6v1.6h-1.6zM96.4,257.6h1.6v1.6h-1.6zM222.4,545.4h1.6v1.6h-1.6zM126.5,378.4h1.6v1.6h-1.6zM93.7,180.6h1.6v1.6h-1.6zM60.8,131.1h1.6v1.6h-1.6zM120.8,332.6h1.6v1.6h-1.6zM217.1,555.7h1.6v1.6h-1.6zM137.8,373.3h1.6v1.6h-1.6zM83.7,162.8h1.6v1.6h-1.6zM135.6,406.1h1.6v1.6h-1.6zM149.8,419.8h1.6v1.6h-1.6zM40.6,108.2h1.6v1.6h-1.6zM90.0,188.7h1.6v1.6h-1.6zM180.1,471.2h1.6v1.6h-1.6zM212.1,566.6h1.6v1.6h-1.6zM95.2,284.8h1.6v1.6h-1.6zM123.8,380.5h1.6v1.6h-1.6zM121.1,379.4h1.6v1.6h-1.6zM89.8,239.8h1.6v1.6h-1.6zM126.0,407.5h1.6v1.6h-1.6zM54.1,120.2h1.6v1.6h-1.6zM85.7,153.4h1.6v1.6h-1.6zM78.3,158.3h1.6v1.6h-1.6zM70.5,158.3h1.6v1.6h-1.6zM217.0,571.6h3v3h-3zM195.8,480.5h1.8v1.8h-1.8zM207.1,523.2h1.4v1.4h-1.4zM216.5,546.2h3v3h-3zM211.3,577.0h1.4v1.4h-1.4zM224.6,576.4h1.8v1.8h-1.8zM196.1,457.8h3v3h-3zM210.8,535.5h2.4v2.4h-2.4zM224.8,604.4h2.4v2.4h-2.4zM225.5,603.7h1.8v1.8h-1.8zM188.3,498.8h2.4v2.4h-2.4zM202.4,539.9h1.8v1.8h-1.8zM222.2,587.1h3v3h-3zM184.1,485.2h1.4v1.4h-1.4zM221.2,562.3h1.4v1.4h-1.4zM224.7,596.0h3v3h-3zM200.9,494.8h2.4v2.4h-2.4zM181.6,473.6h1.4v1.4h-1.4zM192.8,544.0h3v3h-3zM222.3,566.5h1.8v1.8h-1.8zM230.3,577.6h3v3h-3zM226.1,589.1h1.8v1.8h-1.8zM199.9,569.8h2.4v2.4h-2.4zM209.2,510.2h2.4v2.4h-2.4zM205.3,585.1h2.4v2.4h-2.4zM219.4,561.1h3v3h-3zM220.3,611.9h1.8v1.8h-1.8zM215.1,576.1h3v3h-3zM192.4,466.4h1.8v1.8h-1.8zM187.3,462.6h3v3h-3zM204.8,563.3h2.4v2.4h-2.4zM226.6,600.3h3v3h-3zM191.5,508.6h1.8v1.8h-1.8zM188.6,467.7h3v3h-3zM207.3,596.9h1.4v1.4h-1.4zM197.4,501.1h1.8v1.8h-1.8zM212.6,577.7h1.4v1.4h-1.4zM195.9,512.0h2.4v2.4h-2.4zM198.5,507.4h3v3h-3zM203.5,532.6h1.8v1.8h-1.8zM185.5,475.3h1.8v1.8h-1.8zM206.5,574.3h1.8v1.8h-1.8zM183.3,461.6h1.4v1.4h-1.4zM197.3,556.2h2.4v2.4h-2.4zM214.3,566.4h1.4v1.4h-1.4zM220.6,574.8h3v3h-3zM191.6,482.7h1.4v1.4h-1.4zM222.7,560.8h3v3h-3zM211.4,573.9h3v3h-3zM224.5,582.4h3v3h-3zM207.4,483.7h2.4v2.4h-2.4zM224.5,608.4h1.4v1.4h-1.4zM195.0,494.6h3v3h-3zM182.9,464.9h1.8v1.8h-1.8zM194.2,560.6h1.4v1.4h-1.4zM194.7,497.6h3v3h-3zM190.4,528.4h1.8v1.8h-1.8zM177.6,485.3h3v3h-3zM193.8,486.7h1.4v1.4h-1.4zM207.8,470.3h1.8v1.8h-1.8zM211.5,553.1h1.4v1.4h-1.4zM196.9,527.7h2.4v2.4h-2.4zM195.7,535.0h1.8v1.8h-1.8zM209.0,573.7h2.4v2.4h-2.4zM238.6,567.7h1.4v1.4h-1.4zM167.7,478.7h3v3h-3zM190.2,470.4h2.4v2.4h-2.4zM173.5,477.7h1.4v1.4h-1.4zM197.7,532.6h1.8v1.8h-1.8zM180.3,500.9h3v3h-3zM217.3,569.7h2.4v2.4h-2.4zM220.5,599.2h1.4v1.4h-1.4zM188.3,467.8h1.4v1.4h-1.4zM210.8,601.3h1.8v1.8h-1.8zM191.7,549.3h1.4v1.4h-1.4zM218.5,574.1h3v3h-3zM198.2,499.6h1.8v1.8h-1.8zM189.0,508.2h2.4v2.4h-2.4zM190.0,483.6h2.4v2.4h-2.4zM198.9,461.7h1.4v1.4h-1.4zM190.0,460.6h2.4v2.4h-2.4zM202.9,526.8h2.4v2.4h-2.4zM216.5,610.0h3v3h-3zM185.2,476.5h1.8v1.8h-1.8zM208.9,509.7h1.8v1.8h-1.8zM213.6,573.9h1.4v1.4h-1.4zM185.2,499.6h1.8v1.8h-1.8zM194.2,528.5h3v3h-3zM221.0,584.9h1.8v1.8h-1.8zM207.6,530.9h3v3h-3zM203.6,484.0h1.8v1.8h-1.8zM209.1,542.5h3v3h-3zM220.5,552.7h3v3h-3zM220.9,567.2h1.8v1.8h-1.8zM233.8,614.6h3v3h-3zM214.3,570.4h2.4v2.4h-2.4zM201.3,519.8h1.8v1.8h-1.8zM203.2,505.3h2.4v2.4h-2.4zM216.0,580.0h1.8v1.8h-1.8zM207.9,588.1h1.4v1.4h-1.4zM204.5,556.3h1.8v1.8h-1.8zM206.4,535.6h1.4v1.4h-1.4zM176.4,471.4h2.4v2.4h-2.4zM228.3,602.0h1.8v1.8h-1.8zM215.8,585.2h3v3h-3zM208.0,596.0h1.4v1.4h-1.4zM214.7,585.8h1.8v1.8h-1.8zM217.0,587.9h1.4v1.4h-1.4zM204.3,507.6h3v3h-3zM205.2,537.4h3v3h-3zM204.7,529.0h1.4v1.4h-1.4zM194.1,543.1h3v3h-3zM187.6,515.0h1.8v1.8h-1.8zM188.2,502.2h1.4v1.4h-1.4zM187.3,460.6h3v3h-3zM184.5,505.9h1.4v1.4h-1.4zM194.4,500.7h1.4v1.4h-1.4zM207.2,564.7h2.4v2.4h-2.4zM213.0,601.5h1.8v1.8h-1.8zM187.8,534.4h1.4v1.4h-1.4zM220.9,601.4h3v3h-3zM223.5,519.9h1.4v1.4h-1.4zM200.0,564.9h1.8v1.8h-1.8zM230.0,603.6h2.4v2.4h-2.4zM209.9,518.8h2.4v2.4h-2.4zM202.6,496.5h1.4v1.4h-1.4zM190.4,490.7h1.4v1.4h-1.4zM225.9,601.5h1.8v1.8h-1.8zM182.7,468.6h1.4v1.4h-1.4zM209.6,548.5h3v3h-3zM191.1,523.7h1.8v1.8h-1.8zM201.1,505.2h2.4v2.4h-2.4zM193.8,469.9h3v3h-3zM180.6,461.1h1.4v1.4h-1.4zM185.3,504.1h3v3h-3zM188.0,487.0h1.4v1.4h-1.4zM204.4,560.9h1.4v1.4h-1.4zM208.3,610.5h1.8v1.8h-1.8zM224.3,591.4h3v3h-3zM207.5,560.7h1.8v1.8h-1.8zM207.4,600.9h1.4v1.4h-1.4zM174.1,456.5h1.8v1.8h-1.8zM184.5,474.3h1.4v1.4h-1.4zM214.1,549.3h3v3h-3zM219.5,575.5h1.4v1.4h-1.4zM184.2,515.4h1.4v1.4h-1.4zM189.6,487.9h1.4v1.4h-1.4zM198.9,496.0h3v3h-3zM207.8,517.0h2.4v2.4h-2.4zM197.6,477.7h1.4v1.4h-1.4zM224.3,536.5h1.4v1.4h-1.4zM198.6,535.7h2.4v2.4h-2.4zM197.1,458.8h1.8v1.8h-1.8zM189.7,605.0h3v3h-3zM200.4,479.1h1.4v1.4h-1.4zM199.8,549.4h2.4v2.4h-2.4zM203.3,522.3h3v3h-3zM185.3,464.4h3v3h-3zM221.0,615.9h1.8v1.8h-1.8zM208.9,500.1h1.4v1.4h-1.4zM200.9,545.8h3v3h-3zM220.0,594.8h1.8v1.8h-1.8zM178.2,471.1h1.4v1.4h-1.4zM228.9,588.7h1.8v1.8h-1.8zM205.2,514.7h3v3h-3zM222.4,611.2h1.4v1.4h-1.4zM191.2,464.8h3v3h-3zM208.3,458.2h1.4v1.4h-1.4zM208.0,611.1h3v3h-3zM194.5,538.5h1.4v1.4h-1.4z" fill="#00ffff"/><defs><pattern id="hg" width="5.2" height="8" patternUnits="userSpaceOnUse" patternTransform="rotate(-24)"><rect width="3.3" height="8" fill="#00e800"/></pattern><pattern id="hb" width="5.2" height="8" patternUnits="userSpaceOnUse" patternTransform="rotate(-24)"><rect width="3.6" height="8" fill="#0a14d0"/></pattern><pattern id="hc" width="5.2" height="8" patternUnits="userSpaceOnUse" patternTransform="rotate(-24)"><rect width="3.0" height="8" fill="#00f0f0"/></pattern></defs><polygon points="166.1,277.7 183.0,272.1 201.8,262.7 209.3,230.7 233.8,213.8 252.6,204.4 265.7,183.8 278.9,161.2 290.2,155.6 303.3,176.2 305.2,208.2 297.7,223.2 277.0,245.8 263.9,253.3 260.1,275.9 241.3,292.8 226.3,296.5 199.9,311.6 177.4,302.2" fill="url(#hg)"/><polygon points="284.5,159.3 291.1,156.5 301.5,177.2 294.9,180.9" fill="#fff"/><polygon points="284.5,159.3 291.1,156.5 301.5,177.2 294.9,180.9" fill="url(#hb)"/><polygon points="265.7,184.7 273.6,187.5 277.4,215.7 269.5,218.0" fill="#fff"/><polygon points="265.7,184.7 273.6,187.5 277.4,215.7 269.5,218.0" fill="url(#hb)"/><polygon points="250.7,200.7 258.2,204.4 260.5,221.3 252.6,223.6" fill="#fff"/><polygon points="250.7,200.7 258.2,204.4 260.5,221.3 252.6,223.6" fill="url(#hb)"/><polygon points="211.2,258.9 224.8,257.1 226.6,292.8 215.0,295.0" fill="#fff"/><polygon points="211.2,258.9 224.8,257.1 226.6,292.8 215.0,295.0" fill="url(#hb)"/><polygon points="175.1,283.4 179.6,283.4 182.3,300.3 177.4,298.8" fill="#fff"/><polygon points="175.1,283.4 179.6,283.4 182.3,300.3 177.4,298.8" fill="url(#hb)"/><polygon points="215.0,227.0 222.5,225.1 221.0,253.3 215.0,253.7" fill="#fff"/><polygon points="215.0,227.0 222.5,225.1 221.0,253.3 215.0,253.7" fill="url(#hc)"/><polygon points="192.4,272.1 196.6,271.2 202.2,302.2 198.1,304.1" fill="#fff"/><polygon points="192.4,272.1 196.6,271.2 202.2,302.2 198.1,304.1" fill="url(#hc)"/><polygon points="250.7,230.7 260.1,227.0 258.2,238.3 252.6,242.0" fill="#fff"/><polygon points="250.7,230.7 260.1,227.0 258.2,238.3 252.6,242.0" fill="url(#hc)"/><polygon points="223.4,296.5 240.4,292.8 245.1,321.0 228.1,324.7" fill="#00e800"/><polygon points="254.5,277.7 260.1,278.7 262.9,316.3 259.2,316.3" fill="#00e800"/><polygon points="222.5,330.4 233.8,333.2 233.8,351.0 225.3,352.0" fill="#00e800"/><polygon points="227.0,351.0 228.7,351.0 228.5,363.3 227.2,363.3" fill="#00e800"/><polygon points="246.9,249.5 259.2,249.5 256.3,274.0 248.8,274.0" fill="#00e800"/><polygon points="299.6,227.0 309.0,224.7 308.2,236.4 300.5,237.5" fill="#00e800"/><polygon points="237.5,326.6 247.9,322.8 248.8,325.7 238.5,330.0" fill="#00e800"/><polygon points="179.3,302.2 190.5,302.2 192.4,311.6 196.6,319.1 188.7,330.4 183.0,328.5 176.5,321.0" fill="#ff0a0a"/><polygon points="206.5,324.7 211.2,306.9 213.5,313.5 209.3,326.6" fill="#ff0a0a"/><polygon points="307.1,245.8 316.5,238.3 318.4,227.0 327.8,221.3 328.9,227.0 320.2,238.3 316.5,258.9 309.0,260.8" fill="#ff0a0a"/><polygon points="291.1,273.0 301.5,264.6 312.7,264.6 309.0,279.6 297.7,283.8" fill="#ff0a0a"/><polygon points="104.9,273.9 112.0,272.3 115.8,297.0 109.3,307.9" fill="#ff0a0a"/><polygon points="108.2,302.5 114.7,304.6 112.5,327.2 107.1,324.4" fill="#ff0a0a"/><polygon points="113.6,297.0 121.3,298.1 120.2,324.4 113.6,322.2" fill="#ffd800"/><polygon points="232.8,420.5 252.0,423.3 254.8,439.7 235.5,440.8" fill="#00e800"/><polygon points="224.6,444.1 253.1,449.6 247.6,468.3 221.3,462.8" fill="#0a14c8"/><polygon points="254.8,438.6 290.5,450.7 289.4,456.2 256.4,448.5" fill="#9be000"/><polygon points="191.6,424.4 198.2,425.4 205.9,446.3 200.4,448.5" fill="#00e800"/><polygon points="202.6,469.9 211.4,466.1 214.7,473.8 205.9,479.3" fill="#00e800"/><polygon points="252.0,456.2 266.3,459.5 264.1,467.2 250.9,465.0" fill="#00e800"/></svg></div>
</body></html>
